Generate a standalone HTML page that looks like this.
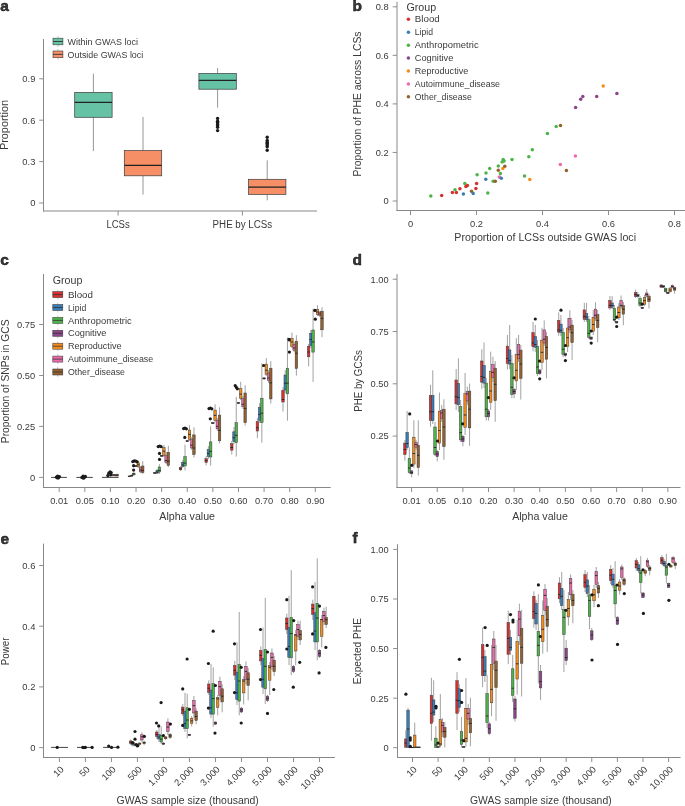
<!DOCTYPE html>
<html><head><meta charset="utf-8"><title>Figure</title>
<style>
html,body{margin:0;padding:0;background:#fff;}
body{width:685px;height:806px;overflow:hidden;}
svg{display:block;will-change:transform;}
text{font-family:"Liberation Sans",sans-serif;fill:#3a3a3a;}
</style></head><body>
<svg width="685" height="806" viewBox="0 0 685 806">
<rect width="685" height="806" fill="#fff"/>
<text x="0.2" y="11.2" font-size="15.5" font-weight="bold" fill="#000" stroke="#000" stroke-width="0.45">a</text>
<line x1="43.5" y1="39" x2="43.5" y2="211.5" stroke="#888888" stroke-width="1"/>
<line x1="39.2" y1="203" x2="43.5" y2="203" stroke="#8e8e8e" stroke-width="1"/>
<text x="35.4" y="206.35" font-size="9.4" text-anchor="end">0</text>
<line x1="39.2" y1="161.6" x2="43.5" y2="161.6" stroke="#8e8e8e" stroke-width="1"/>
<text x="35.4" y="164.95" font-size="9.4" text-anchor="end">0.3</text>
<line x1="39.2" y1="120.2" x2="43.5" y2="120.2" stroke="#8e8e8e" stroke-width="1"/>
<text x="35.4" y="123.55" font-size="9.4" text-anchor="end">0.6</text>
<line x1="39.2" y1="78.8" x2="43.5" y2="78.8" stroke="#8e8e8e" stroke-width="1"/>
<text x="35.4" y="82.15" font-size="9.4" text-anchor="end">0.9</text>
<line x1="43" y1="211" x2="317" y2="211" stroke="#888888" stroke-width="1"/>
<line x1="118.1" y1="211" x2="118.1" y2="215.5" stroke="#8e8e8e" stroke-width="1"/>
<text x="118.1" y="227.6" font-size="10" text-anchor="middle" textLength="23.3" lengthAdjust="spacingAndGlyphs">LCSs</text>
<line x1="242.4" y1="211" x2="242.4" y2="215.5" stroke="#8e8e8e" stroke-width="1"/>
<text x="242.4" y="227.6" font-size="10" text-anchor="middle" textLength="59.6" lengthAdjust="spacingAndGlyphs">PHE by LCSs</text>
<text x="8.4" y="125" font-size="10" text-anchor="middle" textLength="50.2" lengthAdjust="spacingAndGlyphs" transform="rotate(-90 8.4 125)">Proportion</text>
<line x1="93.4" y1="73.7" x2="93.4" y2="92.4" stroke="#8a8a8a" stroke-width="0.9"/>
<line x1="93.4" y1="117.3" x2="93.4" y2="151.1" stroke="#8a8a8a" stroke-width="0.9"/>
<rect x="74.7" y="92.4" width="37.4" height="24.9" fill="#66C2A5" stroke="#3b3b3b" stroke-width="0.7"/>
<line x1="74.7" y1="102.4" x2="112.1" y2="102.4" stroke="#222" stroke-width="1.3"/>
<line x1="143" y1="116.9" x2="143" y2="150.6" stroke="#8a8a8a" stroke-width="0.9"/>
<line x1="143" y1="175.8" x2="143" y2="194.5" stroke="#8a8a8a" stroke-width="0.9"/>
<rect x="124.3" y="150.6" width="37.4" height="25.2" fill="#F68E66" stroke="#3b3b3b" stroke-width="0.7"/>
<line x1="124.3" y1="165.3" x2="161.7" y2="165.3" stroke="#222" stroke-width="1.3"/>
<line x1="217.6" y1="67.9" x2="217.6" y2="73.5" stroke="#8a8a8a" stroke-width="0.9"/>
<line x1="217.6" y1="89.2" x2="217.6" y2="107.6" stroke="#8a8a8a" stroke-width="0.9"/>
<rect x="198.9" y="73.5" width="37.4" height="15.7" fill="#66C2A5" stroke="#3b3b3b" stroke-width="0.7"/>
<line x1="198.9" y1="80.4" x2="236.3" y2="80.4" stroke="#222" stroke-width="1.3"/>
<line x1="267.2" y1="160.3" x2="267.2" y2="179.3" stroke="#8a8a8a" stroke-width="0.9"/>
<line x1="267.2" y1="194.4" x2="267.2" y2="200.4" stroke="#8a8a8a" stroke-width="0.9"/>
<rect x="248.5" y="179.3" width="37.4" height="15.1" fill="#F68E66" stroke="#3b3b3b" stroke-width="0.7"/>
<line x1="248.5" y1="187.1" x2="285.9" y2="187.1" stroke="#222" stroke-width="1.3"/>
<circle cx="217.6" cy="118.4" r="1.7" fill="#1a1a1a"/>
<circle cx="217.6" cy="121.2" r="1.7" fill="#1a1a1a"/>
<circle cx="217.6" cy="122.6" r="1.7" fill="#1a1a1a"/>
<circle cx="217.6" cy="124" r="1.7" fill="#1a1a1a"/>
<circle cx="217.6" cy="125.4" r="1.7" fill="#1a1a1a"/>
<circle cx="217.6" cy="127.2" r="1.7" fill="#1a1a1a"/>
<circle cx="217.6" cy="130.6" r="1.7" fill="#1a1a1a"/>
<circle cx="267.2" cy="137.2" r="1.7" fill="#1a1a1a"/>
<circle cx="267.2" cy="140.5" r="1.7" fill="#1a1a1a"/>
<circle cx="267.2" cy="142.2" r="1.7" fill="#1a1a1a"/>
<circle cx="267.2" cy="143.6" r="1.7" fill="#1a1a1a"/>
<circle cx="267.2" cy="145" r="1.7" fill="#1a1a1a"/>
<circle cx="267.2" cy="146.8" r="1.7" fill="#1a1a1a"/>
<circle cx="267.2" cy="150.2" r="1.7" fill="#1a1a1a"/>
<line x1="58" y1="36.1" x2="58" y2="38.2" stroke="#bbbbbb" stroke-width="0.9"/>
<line x1="58" y1="44.8" x2="58" y2="46.8" stroke="#bbbbbb" stroke-width="0.9"/>
<rect x="53" y="38.2" width="9.9" height="6.6" fill="#66C2A5" stroke="#3b3b3b" stroke-width="0.6"/>
<line x1="53" y1="41.5" x2="62.9" y2="41.5" stroke="#333" stroke-width="0.9"/>
<text x="67.6" y="44.9" font-size="9.6" textLength="70.3" lengthAdjust="spacingAndGlyphs">Within GWAS loci</text>
<line x1="58" y1="48.9" x2="58" y2="51" stroke="#bbbbbb" stroke-width="0.9"/>
<line x1="58" y1="57.7" x2="58" y2="59.7" stroke="#bbbbbb" stroke-width="0.9"/>
<rect x="53" y="51" width="9.9" height="6.7" fill="#F68E66" stroke="#3b3b3b" stroke-width="0.6"/>
<line x1="53" y1="54.35" x2="62.9" y2="54.35" stroke="#333" stroke-width="0.9"/>
<text x="67.6" y="57.8" font-size="9.6" textLength="75.6" lengthAdjust="spacingAndGlyphs">Outside GWAS loci</text>
<text x="352.6" y="11" font-size="15.5" font-weight="bold" fill="#000" stroke="#000" stroke-width="0.45">b</text>
<line x1="397" y1="1.8" x2="397" y2="211" stroke="#888888" stroke-width="1"/>
<line x1="392.7" y1="201" x2="397" y2="201" stroke="#8e8e8e" stroke-width="1"/>
<text x="388.6" y="204.35" font-size="9.3" text-anchor="end">0</text>
<line x1="392.7" y1="152.45" x2="397" y2="152.45" stroke="#8e8e8e" stroke-width="1"/>
<text x="388.6" y="155.8" font-size="9.3" text-anchor="end">0.2</text>
<line x1="392.7" y1="103.9" x2="397" y2="103.9" stroke="#8e8e8e" stroke-width="1"/>
<text x="388.6" y="107.25" font-size="9.3" text-anchor="end">0.4</text>
<line x1="392.7" y1="55.35" x2="397" y2="55.35" stroke="#8e8e8e" stroke-width="1"/>
<text x="388.6" y="58.7" font-size="9.3" text-anchor="end">0.6</text>
<line x1="392.7" y1="6.8" x2="397" y2="6.8" stroke="#8e8e8e" stroke-width="1"/>
<text x="388.6" y="10.15" font-size="9.3" text-anchor="end">0.8</text>
<line x1="396.5" y1="210.5" x2="685" y2="210.5" stroke="#888888" stroke-width="1"/>
<line x1="410.5" y1="210.5" x2="410.5" y2="215" stroke="#8e8e8e" stroke-width="1"/>
<text x="410.5" y="226.6" font-size="9.3" text-anchor="middle">0</text>
<line x1="476.5" y1="210.5" x2="476.5" y2="215" stroke="#8e8e8e" stroke-width="1"/>
<text x="476.5" y="226.6" font-size="9.3" text-anchor="middle">0.2</text>
<line x1="542.5" y1="210.5" x2="542.5" y2="215" stroke="#8e8e8e" stroke-width="1"/>
<text x="542.5" y="226.6" font-size="9.3" text-anchor="middle">0.4</text>
<line x1="608.5" y1="210.5" x2="608.5" y2="215" stroke="#8e8e8e" stroke-width="1"/>
<text x="608.5" y="226.6" font-size="9.3" text-anchor="middle">0.6</text>
<line x1="674.5" y1="210.5" x2="674.5" y2="215" stroke="#8e8e8e" stroke-width="1"/>
<text x="674.5" y="226.6" font-size="9.3" text-anchor="middle">0.8</text>
<text x="545.2" y="240.6" font-size="10" text-anchor="middle" textLength="181.7" lengthAdjust="spacingAndGlyphs">Proportion of LCSs outside GWAS loci</text>
<text x="361.2" y="104" font-size="10" text-anchor="middle" textLength="145" lengthAdjust="spacingAndGlyphs" transform="rotate(-90 361.2 104)">Proportion of PHE across LCSs</text>
<circle cx="430.8" cy="195.9" r="1.75" fill="#4DB348"/>
<circle cx="441.7" cy="195.4" r="1.75" fill="#D7302F"/>
<circle cx="452.4" cy="192.6" r="1.75" fill="#D7302F"/>
<circle cx="456.4" cy="192.6" r="1.75" fill="#D7302F"/>
<circle cx="455" cy="189.8" r="1.75" fill="#4DB348"/>
<circle cx="459.9" cy="188.7" r="1.75" fill="#D7302F"/>
<circle cx="464.8" cy="183.4" r="1.75" fill="#4DB348"/>
<circle cx="465.9" cy="186.6" r="1.75" fill="#D7302F"/>
<circle cx="467.4" cy="185.4" r="1.75" fill="#D7302F"/>
<circle cx="463.4" cy="194.1" r="1.75" fill="#3A7DB6"/>
<circle cx="471.5" cy="191.3" r="1.75" fill="#93602F"/>
<circle cx="473.2" cy="193.6" r="1.75" fill="#3A7DB6"/>
<circle cx="475.9" cy="188.4" r="1.75" fill="#D7302F"/>
<circle cx="476.6" cy="183.4" r="1.75" fill="#D7302F"/>
<circle cx="477.1" cy="174.7" r="1.75" fill="#4DB348"/>
<circle cx="487.8" cy="192.9" r="1.75" fill="#4DB348"/>
<circle cx="485.8" cy="179.2" r="1.75" fill="#3A7DB6"/>
<circle cx="486" cy="172.9" r="1.75" fill="#4DB348"/>
<circle cx="489.7" cy="168.6" r="1.75" fill="#4DB348"/>
<circle cx="493.2" cy="181.2" r="1.75" fill="#4DB348"/>
<circle cx="495.3" cy="181.3" r="1.75" fill="#93602F"/>
<circle cx="498.3" cy="165.9" r="1.75" fill="#4DB348"/>
<circle cx="498.3" cy="170.3" r="1.75" fill="#93602F"/>
<circle cx="500.4" cy="173.5" r="1.75" fill="#4DB348"/>
<circle cx="499.3" cy="177.1" r="1.75" fill="#EE69AA"/>
<circle cx="501.3" cy="178.2" r="1.75" fill="#3A7DB6"/>
<circle cx="502.8" cy="168.6" r="1.75" fill="#F58C19"/>
<circle cx="504.8" cy="166.3" r="1.75" fill="#93602F"/>
<circle cx="502.1" cy="162.1" r="1.75" fill="#4DB348"/>
<circle cx="503.2" cy="159.6" r="1.75" fill="#4DB348"/>
<circle cx="504.1" cy="161" r="1.75" fill="#4DB348"/>
<circle cx="512" cy="159.6" r="1.75" fill="#4DB348"/>
<circle cx="603.2" cy="85.9" r="1.75" fill="#F58C19"/>
<circle cx="616.9" cy="93.5" r="1.75" fill="#8D458A"/>
<circle cx="596.7" cy="96.4" r="1.75" fill="#8D458A"/>
<circle cx="582.8" cy="96.4" r="1.75" fill="#8D458A"/>
<circle cx="580.7" cy="99.2" r="1.75" fill="#8D458A"/>
<circle cx="575.6" cy="107.6" r="1.75" fill="#8D458A"/>
<circle cx="560.5" cy="125.4" r="1.75" fill="#93602F"/>
<circle cx="556.2" cy="126.4" r="1.75" fill="#4DB348"/>
<circle cx="547.4" cy="133.4" r="1.75" fill="#4DB348"/>
<circle cx="532.3" cy="149.7" r="1.75" fill="#4DB348"/>
<circle cx="528.8" cy="156.7" r="1.75" fill="#4DB348"/>
<circle cx="575.4" cy="156" r="1.75" fill="#EE69AA"/>
<circle cx="560.3" cy="164.4" r="1.75" fill="#EE69AA"/>
<circle cx="566.4" cy="170.5" r="1.75" fill="#93602F"/>
<circle cx="524.5" cy="176.1" r="1.75" fill="#4DB348"/>
<circle cx="529.8" cy="179.5" r="1.75" fill="#F58C19"/>
<text x="406.5" y="10.8" font-size="10.4" textLength="29.7" lengthAdjust="spacingAndGlyphs">Group</text>
<circle cx="408.4" cy="19.3" r="1.75" fill="#D7302F"/>
<text x="414.8" y="22.4" font-size="9.4" textLength="25" lengthAdjust="spacingAndGlyphs">Blood</text>
<circle cx="408.4" cy="32.22" r="1.75" fill="#3A7DB6"/>
<text x="414.8" y="35.32" font-size="9.4" textLength="18.2" lengthAdjust="spacingAndGlyphs">Lipid</text>
<circle cx="408.4" cy="45.14" r="1.75" fill="#4DB348"/>
<text x="414.8" y="48.24" font-size="9.4" textLength="63.8" lengthAdjust="spacingAndGlyphs">Anthropometric</text>
<circle cx="408.4" cy="58.06" r="1.75" fill="#8D458A"/>
<text x="414.8" y="61.16" font-size="9.4" textLength="38.5" lengthAdjust="spacingAndGlyphs">Cognitive</text>
<circle cx="408.4" cy="70.98" r="1.75" fill="#F58C19"/>
<text x="414.8" y="74.08" font-size="9.4" textLength="53.5" lengthAdjust="spacingAndGlyphs">Reproductive</text>
<circle cx="408.4" cy="83.9" r="1.75" fill="#EE69AA"/>
<text x="414.8" y="87" font-size="9.4" textLength="85.2" lengthAdjust="spacingAndGlyphs">Autoimmune_disease</text>
<circle cx="408.4" cy="96.82" r="1.75" fill="#93602F"/>
<text x="414.8" y="99.92" font-size="9.4" textLength="57" lengthAdjust="spacingAndGlyphs">Other_disease</text>
<text x="0.2" y="265" font-size="15.5" font-weight="bold" fill="#000" stroke="#000" stroke-width="0.45">c</text>
<line x1="43.5" y1="274" x2="43.5" y2="488" stroke="#888888" stroke-width="1"/>
<line x1="39.2" y1="477.4" x2="43.5" y2="477.4" stroke="#8e8e8e" stroke-width="1"/>
<text x="35.2" y="480.75" font-size="9.3" text-anchor="end">0</text>
<line x1="39.2" y1="426.4" x2="43.5" y2="426.4" stroke="#8e8e8e" stroke-width="1"/>
<text x="35.2" y="429.75" font-size="9.3" text-anchor="end">0.25</text>
<line x1="39.2" y1="375.5" x2="43.5" y2="375.5" stroke="#8e8e8e" stroke-width="1"/>
<text x="35.2" y="378.85" font-size="9.3" text-anchor="end">0.50</text>
<line x1="39.2" y1="324.5" x2="43.5" y2="324.5" stroke="#8e8e8e" stroke-width="1"/>
<text x="35.2" y="327.85" font-size="9.3" text-anchor="end">0.75</text>
<line x1="43" y1="487.5" x2="330.7" y2="487.5" stroke="#888888" stroke-width="1"/>
<line x1="59.2" y1="487.5" x2="59.2" y2="492" stroke="#8e8e8e" stroke-width="1"/>
<text x="59.2" y="504" font-size="9.3" text-anchor="middle">0.01</text>
<line x1="84.81" y1="487.5" x2="84.81" y2="492" stroke="#8e8e8e" stroke-width="1"/>
<text x="84.81" y="504" font-size="9.3" text-anchor="middle">0.05</text>
<line x1="110.42" y1="487.5" x2="110.42" y2="492" stroke="#8e8e8e" stroke-width="1"/>
<text x="110.42" y="504" font-size="9.3" text-anchor="middle">0.10</text>
<line x1="136.03" y1="487.5" x2="136.03" y2="492" stroke="#8e8e8e" stroke-width="1"/>
<text x="136.03" y="504" font-size="9.3" text-anchor="middle">0.20</text>
<line x1="161.64" y1="487.5" x2="161.64" y2="492" stroke="#8e8e8e" stroke-width="1"/>
<text x="161.64" y="504" font-size="9.3" text-anchor="middle">0.30</text>
<line x1="187.25" y1="487.5" x2="187.25" y2="492" stroke="#8e8e8e" stroke-width="1"/>
<text x="187.25" y="504" font-size="9.3" text-anchor="middle">0.40</text>
<line x1="212.86" y1="487.5" x2="212.86" y2="492" stroke="#8e8e8e" stroke-width="1"/>
<text x="212.86" y="504" font-size="9.3" text-anchor="middle">0.50</text>
<line x1="238.47" y1="487.5" x2="238.47" y2="492" stroke="#8e8e8e" stroke-width="1"/>
<text x="238.47" y="504" font-size="9.3" text-anchor="middle">0.60</text>
<line x1="264.08" y1="487.5" x2="264.08" y2="492" stroke="#8e8e8e" stroke-width="1"/>
<text x="264.08" y="504" font-size="9.3" text-anchor="middle">0.70</text>
<line x1="289.69" y1="487.5" x2="289.69" y2="492" stroke="#8e8e8e" stroke-width="1"/>
<text x="289.69" y="504" font-size="9.3" text-anchor="middle">0.80</text>
<line x1="315.3" y1="487.5" x2="315.3" y2="492" stroke="#8e8e8e" stroke-width="1"/>
<text x="315.3" y="504" font-size="9.3" text-anchor="middle">0.90</text>
<text x="187.2" y="519.9" font-size="10" text-anchor="middle" textLength="55.7" lengthAdjust="spacingAndGlyphs">Alpha value</text>
<text x="9.2" y="381.3" font-size="10" text-anchor="middle" textLength="123.8" lengthAdjust="spacingAndGlyphs" transform="rotate(-90 9.2 381.3)">Proportion of SNPs in GCS</text>
<text x="52.7" y="283.7" font-size="10.4" textLength="29.7" lengthAdjust="spacingAndGlyphs">Group</text>
<line x1="57.8" y1="289.7" x2="57.8" y2="291.6" stroke="#bbbbbb" stroke-width="0.8"/>
<line x1="57.8" y1="297.6" x2="57.8" y2="299.5" stroke="#bbbbbb" stroke-width="0.8"/>
<rect x="52.8" y="291.6" width="10" height="6" fill="#D7302F" stroke="#3b3b3b" stroke-width="0.55"/>
<line x1="52.8" y1="294.6" x2="62.8" y2="294.6" stroke="#333" stroke-width="0.8"/>
<text x="68" y="297.7" font-size="9.4" textLength="25" lengthAdjust="spacingAndGlyphs">Blood</text>
<line x1="57.8" y1="302.6" x2="57.8" y2="304.5" stroke="#bbbbbb" stroke-width="0.8"/>
<line x1="57.8" y1="310.5" x2="57.8" y2="312.4" stroke="#bbbbbb" stroke-width="0.8"/>
<rect x="52.8" y="304.5" width="10" height="6" fill="#3A7DB6" stroke="#3b3b3b" stroke-width="0.55"/>
<line x1="52.8" y1="307.5" x2="62.8" y2="307.5" stroke="#333" stroke-width="0.8"/>
<text x="68" y="310.6" font-size="9.4" textLength="18.2" lengthAdjust="spacingAndGlyphs">Lipid</text>
<line x1="57.8" y1="315.5" x2="57.8" y2="317.4" stroke="#bbbbbb" stroke-width="0.8"/>
<line x1="57.8" y1="323.4" x2="57.8" y2="325.3" stroke="#bbbbbb" stroke-width="0.8"/>
<rect x="52.8" y="317.4" width="10" height="6" fill="#4DB348" stroke="#3b3b3b" stroke-width="0.55"/>
<line x1="52.8" y1="320.4" x2="62.8" y2="320.4" stroke="#333" stroke-width="0.8"/>
<text x="68" y="323.5" font-size="9.4" textLength="63.8" lengthAdjust="spacingAndGlyphs">Anthropometric</text>
<line x1="57.8" y1="328.4" x2="57.8" y2="330.3" stroke="#bbbbbb" stroke-width="0.8"/>
<line x1="57.8" y1="336.3" x2="57.8" y2="338.2" stroke="#bbbbbb" stroke-width="0.8"/>
<rect x="52.8" y="330.3" width="10" height="6" fill="#8D458A" stroke="#3b3b3b" stroke-width="0.55"/>
<line x1="52.8" y1="333.3" x2="62.8" y2="333.3" stroke="#333" stroke-width="0.8"/>
<text x="68" y="336.4" font-size="9.4" textLength="38.5" lengthAdjust="spacingAndGlyphs">Cognitive</text>
<line x1="57.8" y1="341.3" x2="57.8" y2="343.2" stroke="#bbbbbb" stroke-width="0.8"/>
<line x1="57.8" y1="349.2" x2="57.8" y2="351.1" stroke="#bbbbbb" stroke-width="0.8"/>
<rect x="52.8" y="343.2" width="10" height="6" fill="#F58C19" stroke="#3b3b3b" stroke-width="0.55"/>
<line x1="52.8" y1="346.2" x2="62.8" y2="346.2" stroke="#333" stroke-width="0.8"/>
<text x="68" y="349.3" font-size="9.4" textLength="53.5" lengthAdjust="spacingAndGlyphs">Reproductive</text>
<line x1="57.8" y1="354.2" x2="57.8" y2="356.1" stroke="#bbbbbb" stroke-width="0.8"/>
<line x1="57.8" y1="362.1" x2="57.8" y2="364" stroke="#bbbbbb" stroke-width="0.8"/>
<rect x="52.8" y="356.1" width="10" height="6" fill="#EE69AA" stroke="#3b3b3b" stroke-width="0.55"/>
<line x1="52.8" y1="359.1" x2="62.8" y2="359.1" stroke="#333" stroke-width="0.8"/>
<text x="68" y="362.2" font-size="9.4" textLength="85.2" lengthAdjust="spacingAndGlyphs">Autoimmune_disease</text>
<line x1="57.8" y1="367.1" x2="57.8" y2="369" stroke="#bbbbbb" stroke-width="0.8"/>
<line x1="57.8" y1="375" x2="57.8" y2="376.9" stroke="#bbbbbb" stroke-width="0.8"/>
<rect x="52.8" y="369" width="10" height="6" fill="#93602F" stroke="#3b3b3b" stroke-width="0.55"/>
<line x1="52.8" y1="372" x2="62.8" y2="372" stroke="#333" stroke-width="0.8"/>
<text x="68" y="375.1" font-size="9.4" textLength="57" lengthAdjust="spacingAndGlyphs">Other_disease</text>
<line x1="51.1" y1="477.4" x2="66.9" y2="477.4" stroke="#3a3a3a" stroke-width="0.95"/>
<line x1="76.4" y1="477.4" x2="92.8" y2="477.4" stroke="#3a3a3a" stroke-width="0.95"/>
<line x1="102" y1="477.4" x2="118.6" y2="477.4" stroke="#3a3a3a" stroke-width="0.95"/>
<line x1="112.65" y1="473.5" x2="112.65" y2="474.6" stroke="#7a7a7a" stroke-width="0.7"/>
<line x1="112.65" y1="475.6" x2="112.65" y2="476.5" stroke="#7a7a7a" stroke-width="0.7"/>
<rect x="111.4" y="474.6" width="2.5" height="1" fill="#F58C19" stroke="#3b3b3b" stroke-width="0.5"/>
<line x1="111.4" y1="475" x2="113.9" y2="475" stroke="#222" stroke-width="0.9"/>
<line x1="114.88" y1="474" x2="114.88" y2="474.8" stroke="#7a7a7a" stroke-width="0.7"/>
<line x1="114.88" y1="475.8" x2="114.88" y2="476.5" stroke="#7a7a7a" stroke-width="0.7"/>
<rect x="113.63" y="474.8" width="2.5" height="1" fill="#EE69AA" stroke="#3b3b3b" stroke-width="0.5"/>
<line x1="113.63" y1="475.2" x2="116.13" y2="475.2" stroke="#222" stroke-width="0.9"/>
<line x1="117.11" y1="473.5" x2="117.11" y2="474.5" stroke="#7a7a7a" stroke-width="0.7"/>
<line x1="117.11" y1="476" x2="117.11" y2="476.5" stroke="#7a7a7a" stroke-width="0.7"/>
<rect x="115.86" y="474.5" width="2.5" height="1.5" fill="#93602F" stroke="#3b3b3b" stroke-width="0.5"/>
<line x1="115.86" y1="475.2" x2="118.36" y2="475.2" stroke="#222" stroke-width="0.9"/>
<line x1="129.34" y1="475.5" x2="129.34" y2="476" stroke="#7a7a7a" stroke-width="0.7"/>
<line x1="129.34" y1="476.7" x2="129.34" y2="477.2" stroke="#7a7a7a" stroke-width="0.7"/>
<rect x="128.09" y="476" width="2.5" height="0.7" fill="#D7302F" stroke="#3b3b3b" stroke-width="0.5"/>
<line x1="128.09" y1="476.3" x2="130.59" y2="476.3" stroke="#222" stroke-width="0.9"/>
<line x1="131.57" y1="474.5" x2="131.57" y2="475.2" stroke="#7a7a7a" stroke-width="0.7"/>
<line x1="131.57" y1="476.2" x2="131.57" y2="476.8" stroke="#7a7a7a" stroke-width="0.7"/>
<rect x="130.32" y="475.2" width="2.5" height="1" fill="#3A7DB6" stroke="#3b3b3b" stroke-width="0.5"/>
<line x1="130.32" y1="475.6" x2="132.82" y2="475.6" stroke="#222" stroke-width="0.9"/>
<line x1="133.8" y1="470.5" x2="133.8" y2="473.2" stroke="#7a7a7a" stroke-width="0.7"/>
<line x1="133.8" y1="474.8" x2="133.8" y2="476" stroke="#7a7a7a" stroke-width="0.7"/>
<rect x="132.55" y="473.2" width="2.5" height="1.6" fill="#4DB348" stroke="#3b3b3b" stroke-width="0.5"/>
<line x1="132.55" y1="474" x2="135.05" y2="474" stroke="#222" stroke-width="0.9"/>
<line x1="136.03" y1="465" x2="136.03" y2="465.6" stroke="#7a7a7a" stroke-width="0.7"/>
<line x1="136.03" y1="466.4" x2="136.03" y2="467" stroke="#7a7a7a" stroke-width="0.7"/>
<rect x="134.78" y="465.6" width="2.5" height="0.8" fill="#8D458A" stroke="#3b3b3b" stroke-width="0.5"/>
<line x1="134.78" y1="466" x2="137.28" y2="466" stroke="#222" stroke-width="0.9"/>
<line x1="138.26" y1="461.5" x2="138.26" y2="462.8" stroke="#7a7a7a" stroke-width="0.7"/>
<line x1="138.26" y1="466.8" x2="138.26" y2="468" stroke="#7a7a7a" stroke-width="0.7"/>
<rect x="137.01" y="462.8" width="2.5" height="4" fill="#F58C19" stroke="#3b3b3b" stroke-width="0.5"/>
<line x1="137.01" y1="464.8" x2="139.51" y2="464.8" stroke="#222" stroke-width="0.9"/>
<line x1="140.49" y1="466" x2="140.49" y2="467.5" stroke="#7a7a7a" stroke-width="0.7"/>
<line x1="140.49" y1="471.9" x2="140.49" y2="473" stroke="#7a7a7a" stroke-width="0.7"/>
<rect x="139.24" y="467.5" width="2.5" height="4.4" fill="#EE69AA" stroke="#3b3b3b" stroke-width="0.5"/>
<line x1="139.24" y1="470" x2="141.74" y2="470" stroke="#222" stroke-width="0.9"/>
<line x1="142.72" y1="461" x2="142.72" y2="466" stroke="#7a7a7a" stroke-width="0.7"/>
<line x1="142.72" y1="472.6" x2="142.72" y2="474" stroke="#7a7a7a" stroke-width="0.7"/>
<rect x="141.47" y="466" width="2.5" height="6.6" fill="#93602F" stroke="#3b3b3b" stroke-width="0.5"/>
<line x1="141.47" y1="470.4" x2="143.97" y2="470.4" stroke="#222" stroke-width="0.9"/>
<line x1="154.95" y1="472" x2="154.95" y2="472.6" stroke="#7a7a7a" stroke-width="0.7"/>
<line x1="154.95" y1="473.5" x2="154.95" y2="474" stroke="#7a7a7a" stroke-width="0.7"/>
<rect x="153.7" y="472.6" width="2.5" height="0.9" fill="#D7302F" stroke="#3b3b3b" stroke-width="0.5"/>
<line x1="153.7" y1="473" x2="156.2" y2="473" stroke="#222" stroke-width="0.9"/>
<line x1="157.18" y1="469" x2="157.18" y2="470.4" stroke="#7a7a7a" stroke-width="0.7"/>
<line x1="157.18" y1="473.1" x2="157.18" y2="474" stroke="#7a7a7a" stroke-width="0.7"/>
<rect x="155.93" y="470.4" width="2.5" height="2.7" fill="#3A7DB6" stroke="#3b3b3b" stroke-width="0.5"/>
<line x1="155.93" y1="472" x2="158.43" y2="472" stroke="#222" stroke-width="0.9"/>
<line x1="159.41" y1="464.2" x2="159.41" y2="467" stroke="#7a7a7a" stroke-width="0.7"/>
<line x1="159.41" y1="472" x2="159.41" y2="474" stroke="#7a7a7a" stroke-width="0.7"/>
<rect x="158.16" y="467" width="2.5" height="5" fill="#4DB348" stroke="#3b3b3b" stroke-width="0.5"/>
<line x1="158.16" y1="470.5" x2="160.66" y2="470.5" stroke="#222" stroke-width="0.9"/>
<line x1="161.64" y1="455" x2="161.64" y2="455.3" stroke="#7a7a7a" stroke-width="0.7"/>
<line x1="161.64" y1="456.4" x2="161.64" y2="457" stroke="#7a7a7a" stroke-width="0.7"/>
<rect x="160.39" y="455.3" width="2.5" height="1.1" fill="#8D458A" stroke="#3b3b3b" stroke-width="0.5"/>
<line x1="160.39" y1="455.8" x2="162.89" y2="455.8" stroke="#222" stroke-width="0.9"/>
<line x1="163.87" y1="445" x2="163.87" y2="447.5" stroke="#7a7a7a" stroke-width="0.7"/>
<line x1="163.87" y1="455.3" x2="163.87" y2="457" stroke="#7a7a7a" stroke-width="0.7"/>
<rect x="162.62" y="447.5" width="2.5" height="7.8" fill="#F58C19" stroke="#3b3b3b" stroke-width="0.5"/>
<line x1="162.62" y1="451.2" x2="165.12" y2="451.2" stroke="#222" stroke-width="0.9"/>
<line x1="166.1" y1="452" x2="166.1" y2="455.6" stroke="#7a7a7a" stroke-width="0.7"/>
<line x1="166.1" y1="462.5" x2="166.1" y2="464" stroke="#7a7a7a" stroke-width="0.7"/>
<rect x="164.85" y="455.6" width="2.5" height="6.9" fill="#EE69AA" stroke="#3b3b3b" stroke-width="0.5"/>
<line x1="164.85" y1="460.6" x2="167.35" y2="460.6" stroke="#222" stroke-width="0.9"/>
<line x1="168.33" y1="445.8" x2="168.33" y2="452.3" stroke="#7a7a7a" stroke-width="0.7"/>
<line x1="168.33" y1="465.3" x2="168.33" y2="467" stroke="#7a7a7a" stroke-width="0.7"/>
<rect x="167.08" y="452.3" width="2.5" height="13" fill="#93602F" stroke="#3b3b3b" stroke-width="0.5"/>
<line x1="167.08" y1="461.2" x2="169.58" y2="461.2" stroke="#222" stroke-width="0.9"/>
<line x1="180.56" y1="466" x2="180.56" y2="467.6" stroke="#7a7a7a" stroke-width="0.7"/>
<line x1="180.56" y1="469.8" x2="180.56" y2="471" stroke="#7a7a7a" stroke-width="0.7"/>
<rect x="179.31" y="467.6" width="2.5" height="2.2" fill="#D7302F" stroke="#3b3b3b" stroke-width="0.5"/>
<line x1="179.31" y1="468.7" x2="181.81" y2="468.7" stroke="#222" stroke-width="0.9"/>
<line x1="182.79" y1="460" x2="182.79" y2="462.3" stroke="#7a7a7a" stroke-width="0.7"/>
<line x1="182.79" y1="466.5" x2="182.79" y2="468" stroke="#7a7a7a" stroke-width="0.7"/>
<rect x="181.54" y="462.3" width="2.5" height="4.2" fill="#3A7DB6" stroke="#3b3b3b" stroke-width="0.5"/>
<line x1="181.54" y1="465" x2="184.04" y2="465" stroke="#222" stroke-width="0.9"/>
<line x1="185.02" y1="444.7" x2="185.02" y2="456.7" stroke="#7a7a7a" stroke-width="0.7"/>
<line x1="185.02" y1="465.9" x2="185.02" y2="470.4" stroke="#7a7a7a" stroke-width="0.7"/>
<rect x="183.77" y="456.7" width="2.5" height="9.2" fill="#4DB348" stroke="#3b3b3b" stroke-width="0.5"/>
<line x1="183.77" y1="463.1" x2="186.27" y2="463.1" stroke="#222" stroke-width="0.9"/>
<line x1="187.25" y1="440" x2="187.25" y2="440.6" stroke="#7a7a7a" stroke-width="0.7"/>
<line x1="187.25" y1="441.7" x2="187.25" y2="442" stroke="#7a7a7a" stroke-width="0.7"/>
<rect x="186" y="440.6" width="2.5" height="1.1" fill="#8D458A" stroke="#3b3b3b" stroke-width="0.5"/>
<line x1="186" y1="441.1" x2="188.5" y2="441.1" stroke="#222" stroke-width="0.9"/>
<line x1="189.48" y1="425.2" x2="189.48" y2="430" stroke="#7a7a7a" stroke-width="0.7"/>
<line x1="189.48" y1="439.3" x2="189.48" y2="441" stroke="#7a7a7a" stroke-width="0.7"/>
<rect x="188.23" y="430" width="2.5" height="9.3" fill="#F58C19" stroke="#3b3b3b" stroke-width="0.5"/>
<line x1="188.23" y1="434.4" x2="190.73" y2="434.4" stroke="#222" stroke-width="0.9"/>
<line x1="191.71" y1="437" x2="191.71" y2="439.7" stroke="#7a7a7a" stroke-width="0.7"/>
<line x1="191.71" y1="448" x2="191.71" y2="450" stroke="#7a7a7a" stroke-width="0.7"/>
<rect x="190.46" y="439.7" width="2.5" height="8.3" fill="#EE69AA" stroke="#3b3b3b" stroke-width="0.5"/>
<line x1="190.46" y1="445.2" x2="192.96" y2="445.2" stroke="#222" stroke-width="0.9"/>
<line x1="193.94" y1="427.4" x2="193.94" y2="434.9" stroke="#7a7a7a" stroke-width="0.7"/>
<line x1="193.94" y1="454.5" x2="193.94" y2="457.5" stroke="#7a7a7a" stroke-width="0.7"/>
<rect x="192.69" y="434.9" width="2.5" height="19.6" fill="#93602F" stroke="#3b3b3b" stroke-width="0.5"/>
<line x1="192.69" y1="448" x2="195.19" y2="448" stroke="#222" stroke-width="0.9"/>
<line x1="206.17" y1="456" x2="206.17" y2="458.6" stroke="#7a7a7a" stroke-width="0.7"/>
<line x1="206.17" y1="462.5" x2="206.17" y2="465.3" stroke="#7a7a7a" stroke-width="0.7"/>
<rect x="204.92" y="458.6" width="2.5" height="3.9" fill="#D7302F" stroke="#3b3b3b" stroke-width="0.5"/>
<line x1="204.92" y1="460.5" x2="207.42" y2="460.5" stroke="#222" stroke-width="0.9"/>
<line x1="208.4" y1="446" x2="208.4" y2="449.7" stroke="#7a7a7a" stroke-width="0.7"/>
<line x1="208.4" y1="456.7" x2="208.4" y2="459" stroke="#7a7a7a" stroke-width="0.7"/>
<rect x="207.15" y="449.7" width="2.5" height="7" fill="#3A7DB6" stroke="#3b3b3b" stroke-width="0.5"/>
<line x1="207.15" y1="453.5" x2="209.65" y2="453.5" stroke="#222" stroke-width="0.9"/>
<line x1="210.63" y1="426.3" x2="210.63" y2="441.9" stroke="#7a7a7a" stroke-width="0.7"/>
<line x1="210.63" y1="457" x2="210.63" y2="465.7" stroke="#7a7a7a" stroke-width="0.7"/>
<rect x="209.38" y="441.9" width="2.5" height="15.1" fill="#4DB348" stroke="#3b3b3b" stroke-width="0.5"/>
<line x1="209.38" y1="451.4" x2="211.88" y2="451.4" stroke="#222" stroke-width="0.9"/>
<line x1="212.86" y1="422" x2="212.86" y2="422.6" stroke="#7a7a7a" stroke-width="0.7"/>
<line x1="212.86" y1="423.7" x2="212.86" y2="424" stroke="#7a7a7a" stroke-width="0.7"/>
<rect x="211.61" y="422.6" width="2.5" height="1.1" fill="#8D458A" stroke="#3b3b3b" stroke-width="0.5"/>
<line x1="211.61" y1="423.1" x2="214.11" y2="423.1" stroke="#222" stroke-width="0.9"/>
<line x1="215.09" y1="404.3" x2="215.09" y2="410.1" stroke="#7a7a7a" stroke-width="0.7"/>
<line x1="215.09" y1="420.4" x2="215.09" y2="422" stroke="#7a7a7a" stroke-width="0.7"/>
<rect x="213.84" y="410.1" width="2.5" height="10.3" fill="#F58C19" stroke="#3b3b3b" stroke-width="0.5"/>
<line x1="213.84" y1="415.4" x2="216.34" y2="415.4" stroke="#222" stroke-width="0.9"/>
<line x1="217.32" y1="418" x2="217.32" y2="420.7" stroke="#7a7a7a" stroke-width="0.7"/>
<line x1="217.32" y1="428.8" x2="217.32" y2="431" stroke="#7a7a7a" stroke-width="0.7"/>
<rect x="216.07" y="420.7" width="2.5" height="8.1" fill="#EE69AA" stroke="#3b3b3b" stroke-width="0.5"/>
<line x1="216.07" y1="426.3" x2="218.57" y2="426.3" stroke="#222" stroke-width="0.9"/>
<line x1="219.55" y1="407.3" x2="219.55" y2="415.1" stroke="#7a7a7a" stroke-width="0.7"/>
<line x1="219.55" y1="440.8" x2="219.55" y2="443.3" stroke="#7a7a7a" stroke-width="0.7"/>
<rect x="218.3" y="415.1" width="2.5" height="25.7" fill="#93602F" stroke="#3b3b3b" stroke-width="0.5"/>
<line x1="218.3" y1="430.4" x2="220.8" y2="430.4" stroke="#222" stroke-width="0.9"/>
<line x1="231.78" y1="441" x2="231.78" y2="443.7" stroke="#7a7a7a" stroke-width="0.7"/>
<line x1="231.78" y1="450.1" x2="231.78" y2="454.6" stroke="#7a7a7a" stroke-width="0.7"/>
<rect x="230.53" y="443.7" width="2.5" height="6.4" fill="#D7302F" stroke="#3b3b3b" stroke-width="0.5"/>
<line x1="230.53" y1="447.5" x2="233.03" y2="447.5" stroke="#222" stroke-width="0.9"/>
<line x1="234.01" y1="427" x2="234.01" y2="431.8" stroke="#7a7a7a" stroke-width="0.7"/>
<line x1="234.01" y1="441.7" x2="234.01" y2="444" stroke="#7a7a7a" stroke-width="0.7"/>
<rect x="232.76" y="431.8" width="2.5" height="9.9" fill="#3A7DB6" stroke="#3b3b3b" stroke-width="0.5"/>
<line x1="232.76" y1="437.7" x2="235.26" y2="437.7" stroke="#222" stroke-width="0.9"/>
<line x1="236.24" y1="396.8" x2="236.24" y2="422.7" stroke="#7a7a7a" stroke-width="0.7"/>
<line x1="236.24" y1="442.7" x2="236.24" y2="456.6" stroke="#7a7a7a" stroke-width="0.7"/>
<rect x="234.99" y="422.7" width="2.5" height="20" fill="#4DB348" stroke="#3b3b3b" stroke-width="0.5"/>
<line x1="234.99" y1="435.3" x2="237.49" y2="435.3" stroke="#222" stroke-width="0.9"/>
<line x1="238.47" y1="402" x2="238.47" y2="402.5" stroke="#7a7a7a" stroke-width="0.7"/>
<line x1="238.47" y1="403.6" x2="238.47" y2="404" stroke="#7a7a7a" stroke-width="0.7"/>
<rect x="237.22" y="402.5" width="2.5" height="1.1" fill="#8D458A" stroke="#3b3b3b" stroke-width="0.5"/>
<line x1="237.22" y1="403" x2="239.72" y2="403" stroke="#222" stroke-width="0.9"/>
<line x1="240.7" y1="381.8" x2="240.7" y2="388.6" stroke="#7a7a7a" stroke-width="0.7"/>
<line x1="240.7" y1="398.2" x2="240.7" y2="400" stroke="#7a7a7a" stroke-width="0.7"/>
<rect x="239.45" y="388.6" width="2.5" height="9.6" fill="#F58C19" stroke="#3b3b3b" stroke-width="0.5"/>
<line x1="239.45" y1="394.1" x2="241.95" y2="394.1" stroke="#222" stroke-width="0.9"/>
<line x1="242.93" y1="396" x2="242.93" y2="398.5" stroke="#7a7a7a" stroke-width="0.7"/>
<line x1="242.93" y1="406.4" x2="242.93" y2="409" stroke="#7a7a7a" stroke-width="0.7"/>
<rect x="241.68" y="398.5" width="2.5" height="7.9" fill="#EE69AA" stroke="#3b3b3b" stroke-width="0.5"/>
<line x1="241.68" y1="404.3" x2="244.18" y2="404.3" stroke="#222" stroke-width="0.9"/>
<line x1="245.16" y1="385.2" x2="245.16" y2="393" stroke="#7a7a7a" stroke-width="0.7"/>
<line x1="245.16" y1="422.7" x2="245.16" y2="425.5" stroke="#7a7a7a" stroke-width="0.7"/>
<rect x="243.91" y="393" width="2.5" height="29.7" fill="#93602F" stroke="#3b3b3b" stroke-width="0.5"/>
<line x1="243.91" y1="408.4" x2="246.41" y2="408.4" stroke="#222" stroke-width="0.9"/>
<line x1="257.39" y1="418" x2="257.39" y2="421.6" stroke="#7a7a7a" stroke-width="0.7"/>
<line x1="257.39" y1="431" x2="257.39" y2="438.2" stroke="#7a7a7a" stroke-width="0.7"/>
<rect x="256.14" y="421.6" width="2.5" height="9.4" fill="#D7302F" stroke="#3b3b3b" stroke-width="0.5"/>
<line x1="256.14" y1="427.8" x2="258.64" y2="427.8" stroke="#222" stroke-width="0.9"/>
<line x1="259.62" y1="403" x2="259.62" y2="407.4" stroke="#7a7a7a" stroke-width="0.7"/>
<line x1="259.62" y1="420.4" x2="259.62" y2="423" stroke="#7a7a7a" stroke-width="0.7"/>
<rect x="258.37" y="407.4" width="2.5" height="13" fill="#3A7DB6" stroke="#3b3b3b" stroke-width="0.5"/>
<line x1="258.37" y1="414.4" x2="260.87" y2="414.4" stroke="#222" stroke-width="0.9"/>
<line x1="261.85" y1="363.4" x2="261.85" y2="398.2" stroke="#7a7a7a" stroke-width="0.7"/>
<line x1="261.85" y1="422.6" x2="261.85" y2="442.7" stroke="#7a7a7a" stroke-width="0.7"/>
<rect x="260.6" y="398.2" width="2.5" height="24.4" fill="#4DB348" stroke="#3b3b3b" stroke-width="0.5"/>
<line x1="260.6" y1="413.2" x2="263.1" y2="413.2" stroke="#222" stroke-width="0.9"/>
<line x1="264.08" y1="377" x2="264.08" y2="377.9" stroke="#7a7a7a" stroke-width="0.7"/>
<line x1="264.08" y1="379" x2="264.08" y2="379.5" stroke="#7a7a7a" stroke-width="0.7"/>
<rect x="262.83" y="377.9" width="2.5" height="1.1" fill="#8D458A" stroke="#3b3b3b" stroke-width="0.5"/>
<line x1="262.83" y1="378.4" x2="265.33" y2="378.4" stroke="#222" stroke-width="0.9"/>
<line x1="266.31" y1="358" x2="266.31" y2="364.1" stroke="#7a7a7a" stroke-width="0.7"/>
<line x1="266.31" y1="374.3" x2="266.31" y2="376" stroke="#7a7a7a" stroke-width="0.7"/>
<rect x="265.06" y="364.1" width="2.5" height="10.2" fill="#F58C19" stroke="#3b3b3b" stroke-width="0.5"/>
<line x1="265.06" y1="370.2" x2="267.56" y2="370.2" stroke="#222" stroke-width="0.9"/>
<line x1="268.54" y1="370" x2="268.54" y2="373" stroke="#7a7a7a" stroke-width="0.7"/>
<line x1="268.54" y1="380.5" x2="268.54" y2="383" stroke="#7a7a7a" stroke-width="0.7"/>
<rect x="267.29" y="373" width="2.5" height="7.5" fill="#EE69AA" stroke="#3b3b3b" stroke-width="0.5"/>
<line x1="267.29" y1="378" x2="269.79" y2="378" stroke="#222" stroke-width="0.9"/>
<line x1="270.77" y1="361.1" x2="270.77" y2="368.2" stroke="#7a7a7a" stroke-width="0.7"/>
<line x1="270.77" y1="398.9" x2="270.77" y2="403.6" stroke="#7a7a7a" stroke-width="0.7"/>
<rect x="269.52" y="368.2" width="2.5" height="30.7" fill="#93602F" stroke="#3b3b3b" stroke-width="0.5"/>
<line x1="269.52" y1="382.9" x2="272.02" y2="382.9" stroke="#222" stroke-width="0.9"/>
<line x1="283" y1="387" x2="283" y2="390.3" stroke="#7a7a7a" stroke-width="0.7"/>
<line x1="283" y1="402" x2="283" y2="411.5" stroke="#7a7a7a" stroke-width="0.7"/>
<rect x="281.75" y="390.3" width="2.5" height="11.7" fill="#D7302F" stroke="#3b3b3b" stroke-width="0.5"/>
<line x1="281.75" y1="399.5" x2="284.25" y2="399.5" stroke="#222" stroke-width="0.9"/>
<line x1="285.23" y1="370" x2="285.23" y2="375" stroke="#7a7a7a" stroke-width="0.7"/>
<line x1="285.23" y1="390" x2="285.23" y2="393" stroke="#7a7a7a" stroke-width="0.7"/>
<rect x="283.98" y="375" width="2.5" height="15" fill="#3A7DB6" stroke="#3b3b3b" stroke-width="0.5"/>
<line x1="283.98" y1="383.2" x2="286.48" y2="383.2" stroke="#222" stroke-width="0.9"/>
<line x1="287.46" y1="337.5" x2="287.46" y2="368.2" stroke="#7a7a7a" stroke-width="0.7"/>
<line x1="287.46" y1="393.8" x2="287.46" y2="420.7" stroke="#7a7a7a" stroke-width="0.7"/>
<rect x="286.21" y="368.2" width="2.5" height="25.6" fill="#4DB348" stroke="#3b3b3b" stroke-width="0.5"/>
<line x1="286.21" y1="383.2" x2="288.71" y2="383.2" stroke="#222" stroke-width="0.9"/>
<line x1="289.69" y1="339.5" x2="289.69" y2="340" stroke="#7a7a7a" stroke-width="0.7"/>
<line x1="289.69" y1="341.1" x2="289.69" y2="341.5" stroke="#7a7a7a" stroke-width="0.7"/>
<rect x="288.44" y="340" width="2.5" height="1.1" fill="#8D458A" stroke="#3b3b3b" stroke-width="0.5"/>
<line x1="288.44" y1="340.5" x2="290.94" y2="340.5" stroke="#222" stroke-width="0.9"/>
<line x1="291.92" y1="332.5" x2="291.92" y2="338.5" stroke="#7a7a7a" stroke-width="0.7"/>
<line x1="291.92" y1="346.4" x2="291.92" y2="348" stroke="#7a7a7a" stroke-width="0.7"/>
<rect x="290.67" y="338.5" width="2.5" height="7.9" fill="#F58C19" stroke="#3b3b3b" stroke-width="0.5"/>
<line x1="290.67" y1="342" x2="293.17" y2="342" stroke="#222" stroke-width="0.9"/>
<line x1="294.15" y1="342" x2="294.15" y2="344.3" stroke="#7a7a7a" stroke-width="0.7"/>
<line x1="294.15" y1="350.2" x2="294.15" y2="352" stroke="#7a7a7a" stroke-width="0.7"/>
<rect x="292.9" y="344.3" width="2.5" height="5.9" fill="#EE69AA" stroke="#3b3b3b" stroke-width="0.5"/>
<line x1="292.9" y1="348" x2="295.4" y2="348" stroke="#222" stroke-width="0.9"/>
<line x1="296.38" y1="335.2" x2="296.38" y2="341.2" stroke="#7a7a7a" stroke-width="0.7"/>
<line x1="296.38" y1="368.5" x2="296.38" y2="375.7" stroke="#7a7a7a" stroke-width="0.7"/>
<rect x="295.13" y="341.2" width="2.5" height="27.3" fill="#93602F" stroke="#3b3b3b" stroke-width="0.5"/>
<line x1="295.13" y1="353.2" x2="297.63" y2="353.2" stroke="#222" stroke-width="0.9"/>
<line x1="308.61" y1="344" x2="308.61" y2="346.2" stroke="#7a7a7a" stroke-width="0.7"/>
<line x1="308.61" y1="356.8" x2="308.61" y2="366.4" stroke="#7a7a7a" stroke-width="0.7"/>
<rect x="307.36" y="346.2" width="2.5" height="10.6" fill="#D7302F" stroke="#3b3b3b" stroke-width="0.5"/>
<line x1="307.36" y1="352" x2="309.86" y2="352" stroke="#222" stroke-width="0.9"/>
<line x1="310.84" y1="330" x2="310.84" y2="333.3" stroke="#7a7a7a" stroke-width="0.7"/>
<line x1="310.84" y1="345.7" x2="310.84" y2="348" stroke="#7a7a7a" stroke-width="0.7"/>
<rect x="309.59" y="333.3" width="2.5" height="12.4" fill="#3A7DB6" stroke="#3b3b3b" stroke-width="0.5"/>
<line x1="309.59" y1="339.5" x2="312.09" y2="339.5" stroke="#222" stroke-width="0.9"/>
<line x1="313.07" y1="308.7" x2="313.07" y2="330" stroke="#7a7a7a" stroke-width="0.7"/>
<line x1="313.07" y1="352.1" x2="313.07" y2="381.9" stroke="#7a7a7a" stroke-width="0.7"/>
<rect x="311.82" y="330" width="2.5" height="22.1" fill="#4DB348" stroke="#3b3b3b" stroke-width="0.5"/>
<line x1="311.82" y1="342" x2="314.32" y2="342" stroke="#222" stroke-width="0.9"/>
<line x1="315.3" y1="309.5" x2="315.3" y2="310" stroke="#7a7a7a" stroke-width="0.7"/>
<line x1="315.3" y1="311.1" x2="315.3" y2="311.5" stroke="#7a7a7a" stroke-width="0.7"/>
<rect x="314.05" y="310" width="2.5" height="1.1" fill="#8D458A" stroke="#3b3b3b" stroke-width="0.5"/>
<line x1="314.05" y1="310.5" x2="316.55" y2="310.5" stroke="#222" stroke-width="0.9"/>
<line x1="317.53" y1="305.2" x2="317.53" y2="309.7" stroke="#7a7a7a" stroke-width="0.7"/>
<line x1="317.53" y1="314.6" x2="317.53" y2="316" stroke="#7a7a7a" stroke-width="0.7"/>
<rect x="316.28" y="309.7" width="2.5" height="4.9" fill="#F58C19" stroke="#3b3b3b" stroke-width="0.5"/>
<line x1="316.28" y1="312" x2="318.78" y2="312" stroke="#222" stroke-width="0.9"/>
<line x1="319.76" y1="311" x2="319.76" y2="312.4" stroke="#7a7a7a" stroke-width="0.7"/>
<line x1="319.76" y1="315.5" x2="319.76" y2="317" stroke="#7a7a7a" stroke-width="0.7"/>
<rect x="318.51" y="312.4" width="2.5" height="3.1" fill="#EE69AA" stroke="#3b3b3b" stroke-width="0.5"/>
<line x1="318.51" y1="314" x2="321.01" y2="314" stroke="#222" stroke-width="0.9"/>
<line x1="321.99" y1="307.2" x2="321.99" y2="311.2" stroke="#7a7a7a" stroke-width="0.7"/>
<line x1="321.99" y1="329.8" x2="321.99" y2="337.2" stroke="#7a7a7a" stroke-width="0.7"/>
<rect x="320.74" y="311.2" width="2.5" height="18.6" fill="#93602F" stroke="#3b3b3b" stroke-width="0.5"/>
<line x1="320.74" y1="318.4" x2="323.24" y2="318.4" stroke="#222" stroke-width="0.9"/>
<circle cx="56.4" cy="477.2" r="1.6" fill="#1a1a1a"/>
<circle cx="57.6" cy="476.2" r="1.6" fill="#1a1a1a"/>
<circle cx="58.6" cy="477.8" r="1.6" fill="#1a1a1a"/>
<circle cx="59.4" cy="476.6" r="1.6" fill="#1a1a1a"/>
<circle cx="57.4" cy="478" r="1.6" fill="#1a1a1a"/>
<circle cx="81.9" cy="477.4" r="1.6" fill="#1a1a1a"/>
<circle cx="83.1" cy="476.2" r="1.6" fill="#1a1a1a"/>
<circle cx="84.4" cy="477.6" r="1.6" fill="#1a1a1a"/>
<circle cx="85.4" cy="476.4" r="1.6" fill="#1a1a1a"/>
<circle cx="83.4" cy="478.2" r="1.6" fill="#1a1a1a"/>
<circle cx="107.8" cy="475.6" r="1.6" fill="#1a1a1a"/>
<circle cx="108.8" cy="473.2" r="1.6" fill="#1a1a1a"/>
<circle cx="110" cy="471.8" r="1.6" fill="#1a1a1a"/>
<circle cx="111.2" cy="472.6" r="1.6" fill="#1a1a1a"/>
<circle cx="110.6" cy="475" r="1.6" fill="#1a1a1a"/>
<circle cx="132.8" cy="461.6" r="1.6" fill="#1a1a1a"/>
<circle cx="134.2" cy="460.8" r="1.6" fill="#1a1a1a"/>
<circle cx="135.8" cy="461.2" r="1.6" fill="#1a1a1a"/>
<circle cx="137.2" cy="461.8" r="1.6" fill="#1a1a1a"/>
<circle cx="133.6" cy="465.7" r="1.6" fill="#1a1a1a"/>
<circle cx="133.6" cy="470" r="1.6" fill="#1a1a1a"/>
<circle cx="158.2" cy="446.6" r="1.6" fill="#1a1a1a"/>
<circle cx="159.6" cy="446" r="1.6" fill="#1a1a1a"/>
<circle cx="161" cy="446.6" r="1.6" fill="#1a1a1a"/>
<circle cx="159.5" cy="453.4" r="1.6" fill="#1a1a1a"/>
<circle cx="159.5" cy="459.4" r="1.6" fill="#1a1a1a"/>
<circle cx="183.6" cy="428.6" r="1.6" fill="#1a1a1a"/>
<circle cx="185" cy="428" r="1.6" fill="#1a1a1a"/>
<circle cx="186.4" cy="428.8" r="1.6" fill="#1a1a1a"/>
<circle cx="184.8" cy="437.4" r="1.6" fill="#1a1a1a"/>
<circle cx="209" cy="408.6" r="1.6" fill="#1a1a1a"/>
<circle cx="210.4" cy="408" r="1.6" fill="#1a1a1a"/>
<circle cx="211.8" cy="408.8" r="1.6" fill="#1a1a1a"/>
<circle cx="210.3" cy="418.8" r="1.6" fill="#1a1a1a"/>
<circle cx="235.2" cy="385.6" r="1.6" fill="#1a1a1a"/>
<circle cx="236.4" cy="387.4" r="1.6" fill="#1a1a1a"/>
<circle cx="237.4" cy="388.8" r="1.6" fill="#1a1a1a"/>
<circle cx="263.6" cy="365.5" r="1.6" fill="#1a1a1a"/>
<circle cx="289" cy="339.4" r="1.6" fill="#1a1a1a"/>
<circle cx="289.4" cy="352.1" r="1.6" fill="#1a1a1a"/>
<circle cx="314.8" cy="310.4" r="1.6" fill="#1a1a1a"/>
<circle cx="315.3" cy="319.2" r="1.6" fill="#1a1a1a"/>
<text x="352.6" y="265" font-size="15.5" font-weight="bold" fill="#000" stroke="#000" stroke-width="0.45">d</text>
<line x1="397" y1="274" x2="397" y2="488" stroke="#888888" stroke-width="1"/>
<line x1="392.7" y1="436.1" x2="397" y2="436.1" stroke="#8e8e8e" stroke-width="1"/>
<text x="388.6" y="439.45" font-size="9.3" text-anchor="end">0.25</text>
<line x1="392.7" y1="383.8" x2="397" y2="383.8" stroke="#8e8e8e" stroke-width="1"/>
<text x="388.6" y="387.15" font-size="9.3" text-anchor="end">0.50</text>
<line x1="392.7" y1="331.5" x2="397" y2="331.5" stroke="#8e8e8e" stroke-width="1"/>
<text x="388.6" y="334.85" font-size="9.3" text-anchor="end">0.75</text>
<line x1="392.7" y1="279.2" x2="397" y2="279.2" stroke="#8e8e8e" stroke-width="1"/>
<text x="388.6" y="282.55" font-size="9.3" text-anchor="end">1.00</text>
<line x1="396.5" y1="487.5" x2="680.5" y2="487.5" stroke="#888888" stroke-width="1"/>
<line x1="411.6" y1="487.5" x2="411.6" y2="492" stroke="#8e8e8e" stroke-width="1"/>
<text x="411.6" y="504" font-size="9.3" text-anchor="middle">0.01</text>
<line x1="437.23" y1="487.5" x2="437.23" y2="492" stroke="#8e8e8e" stroke-width="1"/>
<text x="437.23" y="504" font-size="9.3" text-anchor="middle">0.05</text>
<line x1="462.86" y1="487.5" x2="462.86" y2="492" stroke="#8e8e8e" stroke-width="1"/>
<text x="462.86" y="504" font-size="9.3" text-anchor="middle">0.10</text>
<line x1="488.49" y1="487.5" x2="488.49" y2="492" stroke="#8e8e8e" stroke-width="1"/>
<text x="488.49" y="504" font-size="9.3" text-anchor="middle">0.20</text>
<line x1="514.12" y1="487.5" x2="514.12" y2="492" stroke="#8e8e8e" stroke-width="1"/>
<text x="514.12" y="504" font-size="9.3" text-anchor="middle">0.30</text>
<line x1="539.75" y1="487.5" x2="539.75" y2="492" stroke="#8e8e8e" stroke-width="1"/>
<text x="539.75" y="504" font-size="9.3" text-anchor="middle">0.40</text>
<line x1="565.38" y1="487.5" x2="565.38" y2="492" stroke="#8e8e8e" stroke-width="1"/>
<text x="565.38" y="504" font-size="9.3" text-anchor="middle">0.50</text>
<line x1="591.01" y1="487.5" x2="591.01" y2="492" stroke="#8e8e8e" stroke-width="1"/>
<text x="591.01" y="504" font-size="9.3" text-anchor="middle">0.60</text>
<line x1="616.64" y1="487.5" x2="616.64" y2="492" stroke="#8e8e8e" stroke-width="1"/>
<text x="616.64" y="504" font-size="9.3" text-anchor="middle">0.70</text>
<line x1="642.27" y1="487.5" x2="642.27" y2="492" stroke="#8e8e8e" stroke-width="1"/>
<text x="642.27" y="504" font-size="9.3" text-anchor="middle">0.80</text>
<line x1="667.9" y1="487.5" x2="667.9" y2="492" stroke="#8e8e8e" stroke-width="1"/>
<text x="667.9" y="504" font-size="9.3" text-anchor="middle">0.90</text>
<text x="540" y="519.9" font-size="10" text-anchor="middle" textLength="55.7" lengthAdjust="spacingAndGlyphs">Alpha value</text>
<text x="361.6" y="381" font-size="10" text-anchor="middle" textLength="61.7" lengthAdjust="spacingAndGlyphs" transform="rotate(-90 361.6 381)">PHE by GCSs</text>
<line x1="404.91" y1="440" x2="404.91" y2="443.1" stroke="#7a7a7a" stroke-width="0.7"/>
<line x1="404.91" y1="454.5" x2="404.91" y2="460.6" stroke="#7a7a7a" stroke-width="0.7"/>
<rect x="403.66" y="443.1" width="2.5" height="11.4" fill="#D7302F" stroke="#3b3b3b" stroke-width="0.5"/>
<line x1="403.66" y1="449.5" x2="406.16" y2="449.5" stroke="#222" stroke-width="0.9"/>
<line x1="407.14" y1="411" x2="407.14" y2="432.3" stroke="#7a7a7a" stroke-width="0.7"/>
<line x1="407.14" y1="447.5" x2="407.14" y2="450" stroke="#7a7a7a" stroke-width="0.7"/>
<rect x="405.89" y="432.3" width="2.5" height="15.2" fill="#3A7DB6" stroke="#3b3b3b" stroke-width="0.5"/>
<line x1="405.89" y1="443.6" x2="408.39" y2="443.6" stroke="#222" stroke-width="0.9"/>
<line x1="409.37" y1="447.3" x2="409.37" y2="458.3" stroke="#7a7a7a" stroke-width="0.7"/>
<line x1="409.37" y1="472.6" x2="409.37" y2="474" stroke="#7a7a7a" stroke-width="0.7"/>
<rect x="408.12" y="458.3" width="2.5" height="14.3" fill="#4DB348" stroke="#3b3b3b" stroke-width="0.5"/>
<line x1="408.12" y1="468" x2="410.62" y2="468" stroke="#222" stroke-width="0.9"/>
<line x1="411.6" y1="470" x2="411.6" y2="470.9" stroke="#7a7a7a" stroke-width="0.7"/>
<line x1="411.6" y1="473.8" x2="411.6" y2="477.3" stroke="#7a7a7a" stroke-width="0.7"/>
<rect x="410.35" y="470.9" width="2.5" height="2.9" fill="#8D458A" stroke="#3b3b3b" stroke-width="0.5"/>
<line x1="410.35" y1="472.5" x2="412.85" y2="472.5" stroke="#222" stroke-width="0.9"/>
<line x1="413.83" y1="420.3" x2="413.83" y2="437.2" stroke="#7a7a7a" stroke-width="0.7"/>
<line x1="413.83" y1="464.1" x2="413.83" y2="468" stroke="#7a7a7a" stroke-width="0.7"/>
<rect x="412.58" y="437.2" width="2.5" height="26.9" fill="#F58C19" stroke="#3b3b3b" stroke-width="0.5"/>
<line x1="412.58" y1="453.6" x2="415.08" y2="453.6" stroke="#222" stroke-width="0.9"/>
<line x1="416.06" y1="440" x2="416.06" y2="442.5" stroke="#7a7a7a" stroke-width="0.7"/>
<line x1="416.06" y1="447.2" x2="416.06" y2="450" stroke="#7a7a7a" stroke-width="0.7"/>
<rect x="414.81" y="442.5" width="2.5" height="4.7" fill="#EE69AA" stroke="#3b3b3b" stroke-width="0.5"/>
<line x1="414.81" y1="444.5" x2="417.31" y2="444.5" stroke="#222" stroke-width="0.9"/>
<line x1="418.29" y1="420.3" x2="418.29" y2="445.2" stroke="#7a7a7a" stroke-width="0.7"/>
<line x1="418.29" y1="467.6" x2="418.29" y2="475.5" stroke="#7a7a7a" stroke-width="0.7"/>
<rect x="417.04" y="445.2" width="2.5" height="22.4" fill="#93602F" stroke="#3b3b3b" stroke-width="0.5"/>
<line x1="417.04" y1="455.3" x2="419.54" y2="455.3" stroke="#222" stroke-width="0.9"/>
<line x1="430.54" y1="384.9" x2="430.54" y2="395.4" stroke="#7a7a7a" stroke-width="0.7"/>
<line x1="430.54" y1="420.3" x2="430.54" y2="426.7" stroke="#7a7a7a" stroke-width="0.7"/>
<rect x="429.29" y="395.4" width="2.5" height="24.9" fill="#D7302F" stroke="#3b3b3b" stroke-width="0.5"/>
<line x1="429.29" y1="411.8" x2="431.79" y2="411.8" stroke="#222" stroke-width="0.9"/>
<line x1="432.77" y1="370.3" x2="432.77" y2="395.4" stroke="#7a7a7a" stroke-width="0.7"/>
<line x1="432.77" y1="420.6" x2="432.77" y2="424" stroke="#7a7a7a" stroke-width="0.7"/>
<rect x="431.52" y="395.4" width="2.5" height="25.2" fill="#3A7DB6" stroke="#3b3b3b" stroke-width="0.5"/>
<line x1="431.52" y1="411.8" x2="434.02" y2="411.8" stroke="#222" stroke-width="0.9"/>
<line x1="435" y1="422" x2="435" y2="427" stroke="#7a7a7a" stroke-width="0.7"/>
<line x1="435" y1="454.5" x2="435" y2="456" stroke="#7a7a7a" stroke-width="0.7"/>
<rect x="433.75" y="427" width="2.5" height="27.5" fill="#4DB348" stroke="#3b3b3b" stroke-width="0.5"/>
<line x1="433.75" y1="447.5" x2="436.25" y2="447.5" stroke="#222" stroke-width="0.9"/>
<line x1="437.23" y1="450" x2="437.23" y2="451.6" stroke="#7a7a7a" stroke-width="0.7"/>
<line x1="437.23" y1="456.6" x2="437.23" y2="461.5" stroke="#7a7a7a" stroke-width="0.7"/>
<rect x="435.98" y="451.6" width="2.5" height="5" fill="#8D458A" stroke="#3b3b3b" stroke-width="0.5"/>
<line x1="435.98" y1="454" x2="438.48" y2="454" stroke="#222" stroke-width="0.9"/>
<line x1="439.46" y1="392.5" x2="439.46" y2="411.3" stroke="#7a7a7a" stroke-width="0.7"/>
<line x1="439.46" y1="443.1" x2="439.46" y2="450" stroke="#7a7a7a" stroke-width="0.7"/>
<rect x="438.21" y="411.3" width="2.5" height="31.8" fill="#F58C19" stroke="#3b3b3b" stroke-width="0.5"/>
<line x1="438.21" y1="430.5" x2="440.71" y2="430.5" stroke="#222" stroke-width="0.9"/>
<line x1="441.69" y1="405" x2="441.69" y2="410.6" stroke="#7a7a7a" stroke-width="0.7"/>
<line x1="441.69" y1="418.5" x2="441.69" y2="422" stroke="#7a7a7a" stroke-width="0.7"/>
<rect x="440.44" y="410.6" width="2.5" height="7.9" fill="#EE69AA" stroke="#3b3b3b" stroke-width="0.5"/>
<line x1="440.44" y1="413" x2="442.94" y2="413" stroke="#222" stroke-width="0.9"/>
<line x1="443.92" y1="399.3" x2="443.92" y2="409.2" stroke="#7a7a7a" stroke-width="0.7"/>
<line x1="443.92" y1="446.6" x2="443.92" y2="459.8" stroke="#7a7a7a" stroke-width="0.7"/>
<rect x="442.67" y="409.2" width="2.5" height="37.4" fill="#93602F" stroke="#3b3b3b" stroke-width="0.5"/>
<line x1="442.67" y1="427" x2="445.17" y2="427" stroke="#222" stroke-width="0.9"/>
<line x1="456.17" y1="369.1" x2="456.17" y2="380" stroke="#7a7a7a" stroke-width="0.7"/>
<line x1="456.17" y1="403.9" x2="456.17" y2="410" stroke="#7a7a7a" stroke-width="0.7"/>
<rect x="454.92" y="380" width="2.5" height="23.9" fill="#D7302F" stroke="#3b3b3b" stroke-width="0.5"/>
<line x1="454.92" y1="396.7" x2="457.42" y2="396.7" stroke="#222" stroke-width="0.9"/>
<line x1="458.4" y1="358.3" x2="458.4" y2="383.3" stroke="#7a7a7a" stroke-width="0.7"/>
<line x1="458.4" y1="404.8" x2="458.4" y2="412" stroke="#7a7a7a" stroke-width="0.7"/>
<rect x="457.15" y="383.3" width="2.5" height="21.5" fill="#3A7DB6" stroke="#3b3b3b" stroke-width="0.5"/>
<line x1="457.15" y1="397.3" x2="459.65" y2="397.3" stroke="#222" stroke-width="0.9"/>
<line x1="460.63" y1="400" x2="460.63" y2="406.6" stroke="#7a7a7a" stroke-width="0.7"/>
<line x1="460.63" y1="439.9" x2="460.63" y2="442" stroke="#7a7a7a" stroke-width="0.7"/>
<rect x="459.38" y="406.6" width="2.5" height="33.3" fill="#4DB348" stroke="#3b3b3b" stroke-width="0.5"/>
<line x1="459.38" y1="432.6" x2="461.88" y2="432.6" stroke="#222" stroke-width="0.9"/>
<line x1="462.86" y1="435" x2="462.86" y2="436.4" stroke="#7a7a7a" stroke-width="0.7"/>
<line x1="462.86" y1="441.7" x2="462.86" y2="446.4" stroke="#7a7a7a" stroke-width="0.7"/>
<rect x="461.61" y="436.4" width="2.5" height="5.3" fill="#8D458A" stroke="#3b3b3b" stroke-width="0.5"/>
<line x1="461.61" y1="439" x2="464.11" y2="439" stroke="#222" stroke-width="0.9"/>
<line x1="465.09" y1="373" x2="465.09" y2="393.7" stroke="#7a7a7a" stroke-width="0.7"/>
<line x1="465.09" y1="427.3" x2="465.09" y2="435" stroke="#7a7a7a" stroke-width="0.7"/>
<rect x="463.84" y="393.7" width="2.5" height="33.6" fill="#F58C19" stroke="#3b3b3b" stroke-width="0.5"/>
<line x1="463.84" y1="415" x2="466.34" y2="415" stroke="#222" stroke-width="0.9"/>
<line x1="467.32" y1="386.6" x2="467.32" y2="391.7" stroke="#7a7a7a" stroke-width="0.7"/>
<line x1="467.32" y1="401" x2="467.32" y2="405" stroke="#7a7a7a" stroke-width="0.7"/>
<rect x="466.07" y="391.7" width="2.5" height="9.3" fill="#EE69AA" stroke="#3b3b3b" stroke-width="0.5"/>
<line x1="466.07" y1="394" x2="468.57" y2="394" stroke="#222" stroke-width="0.9"/>
<line x1="469.55" y1="383.5" x2="469.55" y2="391.1" stroke="#7a7a7a" stroke-width="0.7"/>
<line x1="469.55" y1="427.9" x2="469.55" y2="445.8" stroke="#7a7a7a" stroke-width="0.7"/>
<rect x="468.3" y="391.1" width="2.5" height="36.8" fill="#93602F" stroke="#3b3b3b" stroke-width="0.5"/>
<line x1="468.3" y1="409.2" x2="470.8" y2="409.2" stroke="#222" stroke-width="0.9"/>
<line x1="481.8" y1="349.2" x2="481.8" y2="361" stroke="#7a7a7a" stroke-width="0.7"/>
<line x1="481.8" y1="382.1" x2="481.8" y2="388.9" stroke="#7a7a7a" stroke-width="0.7"/>
<rect x="480.55" y="361" width="2.5" height="21.1" fill="#D7302F" stroke="#3b3b3b" stroke-width="0.5"/>
<line x1="480.55" y1="376.5" x2="483.05" y2="376.5" stroke="#222" stroke-width="0.9"/>
<line x1="484.03" y1="342.4" x2="484.03" y2="365.4" stroke="#7a7a7a" stroke-width="0.7"/>
<line x1="484.03" y1="383.1" x2="484.03" y2="388" stroke="#7a7a7a" stroke-width="0.7"/>
<rect x="482.78" y="365.4" width="2.5" height="17.7" fill="#3A7DB6" stroke="#3b3b3b" stroke-width="0.5"/>
<line x1="482.78" y1="377.4" x2="485.28" y2="377.4" stroke="#222" stroke-width="0.9"/>
<line x1="486.26" y1="378" x2="486.26" y2="383.1" stroke="#7a7a7a" stroke-width="0.7"/>
<line x1="486.26" y1="416.8" x2="486.26" y2="420.6" stroke="#7a7a7a" stroke-width="0.7"/>
<rect x="485.01" y="383.1" width="2.5" height="33.7" fill="#4DB348" stroke="#3b3b3b" stroke-width="0.5"/>
<line x1="485.01" y1="409.2" x2="487.51" y2="409.2" stroke="#222" stroke-width="0.9"/>
<line x1="488.49" y1="409" x2="488.49" y2="410.9" stroke="#7a7a7a" stroke-width="0.7"/>
<line x1="488.49" y1="416.8" x2="488.49" y2="420.6" stroke="#7a7a7a" stroke-width="0.7"/>
<rect x="487.24" y="410.9" width="2.5" height="5.9" fill="#8D458A" stroke="#3b3b3b" stroke-width="0.5"/>
<line x1="487.24" y1="413.5" x2="489.74" y2="413.5" stroke="#222" stroke-width="0.9"/>
<line x1="490.72" y1="351.7" x2="490.72" y2="371.2" stroke="#7a7a7a" stroke-width="0.7"/>
<line x1="490.72" y1="402.2" x2="490.72" y2="410" stroke="#7a7a7a" stroke-width="0.7"/>
<rect x="489.47" y="371.2" width="2.5" height="31" fill="#F58C19" stroke="#3b3b3b" stroke-width="0.5"/>
<line x1="489.47" y1="391" x2="491.97" y2="391" stroke="#222" stroke-width="0.9"/>
<line x1="492.95" y1="356.7" x2="492.95" y2="364.7" stroke="#7a7a7a" stroke-width="0.7"/>
<line x1="492.95" y1="377.4" x2="492.95" y2="382" stroke="#7a7a7a" stroke-width="0.7"/>
<rect x="491.7" y="364.7" width="2.5" height="12.7" fill="#EE69AA" stroke="#3b3b3b" stroke-width="0.5"/>
<line x1="491.7" y1="372.4" x2="494.2" y2="372.4" stroke="#222" stroke-width="0.9"/>
<line x1="495.18" y1="361" x2="495.18" y2="368.2" stroke="#7a7a7a" stroke-width="0.7"/>
<line x1="495.18" y1="400.7" x2="495.18" y2="421.8" stroke="#7a7a7a" stroke-width="0.7"/>
<rect x="493.93" y="368.2" width="2.5" height="32.5" fill="#93602F" stroke="#3b3b3b" stroke-width="0.5"/>
<line x1="493.93" y1="384.3" x2="496.43" y2="384.3" stroke="#222" stroke-width="0.9"/>
<line x1="507.43" y1="335" x2="507.43" y2="346.1" stroke="#7a7a7a" stroke-width="0.7"/>
<line x1="507.43" y1="363.5" x2="507.43" y2="369.5" stroke="#7a7a7a" stroke-width="0.7"/>
<rect x="506.18" y="346.1" width="2.5" height="17.4" fill="#D7302F" stroke="#3b3b3b" stroke-width="0.5"/>
<line x1="506.18" y1="358.5" x2="508.68" y2="358.5" stroke="#222" stroke-width="0.9"/>
<line x1="509.66" y1="325" x2="509.66" y2="349.9" stroke="#7a7a7a" stroke-width="0.7"/>
<line x1="509.66" y1="364.1" x2="509.66" y2="369" stroke="#7a7a7a" stroke-width="0.7"/>
<rect x="508.41" y="349.9" width="2.5" height="14.2" fill="#3A7DB6" stroke="#3b3b3b" stroke-width="0.5"/>
<line x1="508.41" y1="360.4" x2="510.91" y2="360.4" stroke="#222" stroke-width="0.9"/>
<line x1="511.89" y1="355" x2="511.89" y2="363.5" stroke="#7a7a7a" stroke-width="0.7"/>
<line x1="511.89" y1="394.5" x2="511.89" y2="398.2" stroke="#7a7a7a" stroke-width="0.7"/>
<rect x="510.64" y="363.5" width="2.5" height="31" fill="#4DB348" stroke="#3b3b3b" stroke-width="0.5"/>
<line x1="510.64" y1="387.3" x2="513.14" y2="387.3" stroke="#222" stroke-width="0.9"/>
<line x1="514.12" y1="388" x2="514.12" y2="389.3" stroke="#7a7a7a" stroke-width="0.7"/>
<line x1="514.12" y1="393.9" x2="514.12" y2="398.2" stroke="#7a7a7a" stroke-width="0.7"/>
<rect x="512.87" y="389.3" width="2.5" height="4.6" fill="#8D458A" stroke="#3b3b3b" stroke-width="0.5"/>
<line x1="512.87" y1="391.5" x2="515.37" y2="391.5" stroke="#222" stroke-width="0.9"/>
<line x1="516.35" y1="338.1" x2="516.35" y2="354.2" stroke="#7a7a7a" stroke-width="0.7"/>
<line x1="516.35" y1="380.9" x2="516.35" y2="390" stroke="#7a7a7a" stroke-width="0.7"/>
<rect x="515.1" y="354.2" width="2.5" height="26.7" fill="#F58C19" stroke="#3b3b3b" stroke-width="0.5"/>
<line x1="515.1" y1="370.3" x2="517.6" y2="370.3" stroke="#222" stroke-width="0.9"/>
<line x1="518.58" y1="335" x2="518.58" y2="344.6" stroke="#7a7a7a" stroke-width="0.7"/>
<line x1="518.58" y1="358.8" x2="518.58" y2="362" stroke="#7a7a7a" stroke-width="0.7"/>
<rect x="517.33" y="344.6" width="2.5" height="14.2" fill="#EE69AA" stroke="#3b3b3b" stroke-width="0.5"/>
<line x1="517.33" y1="354.6" x2="519.83" y2="354.6" stroke="#222" stroke-width="0.9"/>
<line x1="520.81" y1="345" x2="520.81" y2="350.1" stroke="#7a7a7a" stroke-width="0.7"/>
<line x1="520.81" y1="378.4" x2="520.81" y2="399.5" stroke="#7a7a7a" stroke-width="0.7"/>
<rect x="519.56" y="350.1" width="2.5" height="28.3" fill="#93602F" stroke="#3b3b3b" stroke-width="0.5"/>
<line x1="519.56" y1="364.1" x2="522.06" y2="364.1" stroke="#222" stroke-width="0.9"/>
<line x1="533.06" y1="321.9" x2="533.06" y2="332.7" stroke="#7a7a7a" stroke-width="0.7"/>
<line x1="533.06" y1="346.7" x2="533.06" y2="351.3" stroke="#7a7a7a" stroke-width="0.7"/>
<rect x="531.81" y="332.7" width="2.5" height="14" fill="#D7302F" stroke="#3b3b3b" stroke-width="0.5"/>
<line x1="531.81" y1="343" x2="534.31" y2="343" stroke="#222" stroke-width="0.9"/>
<line x1="535.29" y1="325" x2="535.29" y2="336.5" stroke="#7a7a7a" stroke-width="0.7"/>
<line x1="535.29" y1="347.4" x2="535.29" y2="352" stroke="#7a7a7a" stroke-width="0.7"/>
<rect x="534.04" y="336.5" width="2.5" height="10.9" fill="#3A7DB6" stroke="#3b3b3b" stroke-width="0.5"/>
<line x1="534.04" y1="344.6" x2="536.54" y2="344.6" stroke="#222" stroke-width="0.9"/>
<line x1="537.52" y1="340" x2="537.52" y2="346.7" stroke="#7a7a7a" stroke-width="0.7"/>
<line x1="537.52" y1="373.7" x2="537.52" y2="376" stroke="#7a7a7a" stroke-width="0.7"/>
<rect x="536.27" y="346.7" width="2.5" height="27" fill="#4DB348" stroke="#3b3b3b" stroke-width="0.5"/>
<line x1="536.27" y1="367" x2="538.77" y2="367" stroke="#222" stroke-width="0.9"/>
<line x1="539.75" y1="369" x2="539.75" y2="370" stroke="#7a7a7a" stroke-width="0.7"/>
<line x1="539.75" y1="373.7" x2="539.75" y2="375" stroke="#7a7a7a" stroke-width="0.7"/>
<rect x="538.5" y="370" width="2.5" height="3.7" fill="#8D458A" stroke="#3b3b3b" stroke-width="0.5"/>
<line x1="538.5" y1="372" x2="541" y2="372" stroke="#222" stroke-width="0.9"/>
<line x1="541.98" y1="327.7" x2="541.98" y2="340.1" stroke="#7a7a7a" stroke-width="0.7"/>
<line x1="541.98" y1="362.5" x2="541.98" y2="370" stroke="#7a7a7a" stroke-width="0.7"/>
<rect x="540.73" y="340.1" width="2.5" height="22.4" fill="#F58C19" stroke="#3b3b3b" stroke-width="0.5"/>
<line x1="540.73" y1="352.3" x2="543.23" y2="352.3" stroke="#222" stroke-width="0.9"/>
<line x1="544.21" y1="320.4" x2="544.21" y2="329.9" stroke="#7a7a7a" stroke-width="0.7"/>
<line x1="544.21" y1="343" x2="544.21" y2="346" stroke="#7a7a7a" stroke-width="0.7"/>
<rect x="542.96" y="329.9" width="2.5" height="13.1" fill="#EE69AA" stroke="#3b3b3b" stroke-width="0.5"/>
<line x1="542.96" y1="339.3" x2="545.46" y2="339.3" stroke="#222" stroke-width="0.9"/>
<line x1="546.44" y1="332" x2="546.44" y2="336.5" stroke="#7a7a7a" stroke-width="0.7"/>
<line x1="546.44" y1="359.2" x2="546.44" y2="378.4" stroke="#7a7a7a" stroke-width="0.7"/>
<rect x="545.19" y="336.5" width="2.5" height="22.7" fill="#93602F" stroke="#3b3b3b" stroke-width="0.5"/>
<line x1="545.19" y1="347.4" x2="547.69" y2="347.4" stroke="#222" stroke-width="0.9"/>
<line x1="558.69" y1="312.4" x2="558.69" y2="320.4" stroke="#7a7a7a" stroke-width="0.7"/>
<line x1="558.69" y1="332.1" x2="558.69" y2="335.8" stroke="#7a7a7a" stroke-width="0.7"/>
<rect x="557.44" y="320.4" width="2.5" height="11.7" fill="#D7302F" stroke="#3b3b3b" stroke-width="0.5"/>
<line x1="557.44" y1="329.9" x2="559.94" y2="329.9" stroke="#222" stroke-width="0.9"/>
<line x1="560.92" y1="315" x2="560.92" y2="324.1" stroke="#7a7a7a" stroke-width="0.7"/>
<line x1="560.92" y1="332.4" x2="560.92" y2="336" stroke="#7a7a7a" stroke-width="0.7"/>
<rect x="559.67" y="324.1" width="2.5" height="8.3" fill="#3A7DB6" stroke="#3b3b3b" stroke-width="0.5"/>
<line x1="559.67" y1="330.4" x2="562.17" y2="330.4" stroke="#222" stroke-width="0.9"/>
<line x1="563.15" y1="328" x2="563.15" y2="332.4" stroke="#7a7a7a" stroke-width="0.7"/>
<line x1="563.15" y1="354.3" x2="563.15" y2="357" stroke="#7a7a7a" stroke-width="0.7"/>
<rect x="561.9" y="332.4" width="2.5" height="21.9" fill="#4DB348" stroke="#3b3b3b" stroke-width="0.5"/>
<line x1="561.9" y1="349.3" x2="564.4" y2="349.3" stroke="#222" stroke-width="0.9"/>
<line x1="565.38" y1="353" x2="565.38" y2="353.1" stroke="#7a7a7a" stroke-width="0.7"/>
<line x1="565.38" y1="355.7" x2="565.38" y2="357" stroke="#7a7a7a" stroke-width="0.7"/>
<rect x="564.13" y="353.1" width="2.5" height="2.6" fill="#8D458A" stroke="#3b3b3b" stroke-width="0.5"/>
<line x1="564.13" y1="354.5" x2="566.63" y2="354.5" stroke="#222" stroke-width="0.9"/>
<line x1="567.61" y1="318" x2="567.61" y2="328" stroke="#7a7a7a" stroke-width="0.7"/>
<line x1="567.61" y1="346.4" x2="567.61" y2="352" stroke="#7a7a7a" stroke-width="0.7"/>
<rect x="566.36" y="328" width="2.5" height="18.4" fill="#F58C19" stroke="#3b3b3b" stroke-width="0.5"/>
<line x1="566.36" y1="337.7" x2="568.86" y2="337.7" stroke="#222" stroke-width="0.9"/>
<line x1="569.84" y1="310.2" x2="569.84" y2="318.2" stroke="#7a7a7a" stroke-width="0.7"/>
<line x1="569.84" y1="329.9" x2="569.84" y2="333" stroke="#7a7a7a" stroke-width="0.7"/>
<rect x="568.59" y="318.2" width="2.5" height="11.7" fill="#EE69AA" stroke="#3b3b3b" stroke-width="0.5"/>
<line x1="568.59" y1="327" x2="571.09" y2="327" stroke="#222" stroke-width="0.9"/>
<line x1="572.07" y1="320" x2="572.07" y2="325.1" stroke="#7a7a7a" stroke-width="0.7"/>
<line x1="572.07" y1="342.6" x2="572.07" y2="359.9" stroke="#7a7a7a" stroke-width="0.7"/>
<rect x="570.82" y="325.1" width="2.5" height="17.5" fill="#93602F" stroke="#3b3b3b" stroke-width="0.5"/>
<line x1="570.82" y1="332.8" x2="573.32" y2="332.8" stroke="#222" stroke-width="0.9"/>
<line x1="584.32" y1="302.9" x2="584.32" y2="309.9" stroke="#7a7a7a" stroke-width="0.7"/>
<line x1="584.32" y1="319.3" x2="584.32" y2="321.9" stroke="#7a7a7a" stroke-width="0.7"/>
<rect x="583.07" y="309.9" width="2.5" height="9.4" fill="#D7302F" stroke="#3b3b3b" stroke-width="0.5"/>
<line x1="583.07" y1="316.4" x2="585.57" y2="316.4" stroke="#222" stroke-width="0.9"/>
<line x1="586.55" y1="302.9" x2="586.55" y2="313.4" stroke="#7a7a7a" stroke-width="0.7"/>
<line x1="586.55" y1="319.7" x2="586.55" y2="322" stroke="#7a7a7a" stroke-width="0.7"/>
<rect x="585.3" y="313.4" width="2.5" height="6.3" fill="#3A7DB6" stroke="#3b3b3b" stroke-width="0.5"/>
<line x1="585.3" y1="317" x2="587.8" y2="317" stroke="#222" stroke-width="0.9"/>
<line x1="588.78" y1="316" x2="588.78" y2="319.7" stroke="#7a7a7a" stroke-width="0.7"/>
<line x1="588.78" y1="337.2" x2="588.78" y2="339" stroke="#7a7a7a" stroke-width="0.7"/>
<rect x="587.53" y="319.7" width="2.5" height="17.5" fill="#4DB348" stroke="#3b3b3b" stroke-width="0.5"/>
<line x1="587.53" y1="333.3" x2="590.03" y2="333.3" stroke="#222" stroke-width="0.9"/>
<line x1="591.01" y1="339.2" x2="591.01" y2="340" stroke="#7a7a7a" stroke-width="0.7"/>
<rect x="589.76" y="337" width="2.5" height="2.2" fill="#8D458A" stroke="#3b3b3b" stroke-width="0.5"/>
<line x1="589.76" y1="338" x2="592.26" y2="338" stroke="#222" stroke-width="0.9"/>
<line x1="593.24" y1="310" x2="593.24" y2="317.2" stroke="#7a7a7a" stroke-width="0.7"/>
<line x1="593.24" y1="331.4" x2="593.24" y2="335" stroke="#7a7a7a" stroke-width="0.7"/>
<rect x="591.99" y="317.2" width="2.5" height="14.2" fill="#F58C19" stroke="#3b3b3b" stroke-width="0.5"/>
<line x1="591.99" y1="324.5" x2="594.49" y2="324.5" stroke="#222" stroke-width="0.9"/>
<line x1="595.47" y1="302.2" x2="595.47" y2="309.1" stroke="#7a7a7a" stroke-width="0.7"/>
<line x1="595.47" y1="318.2" x2="595.47" y2="321" stroke="#7a7a7a" stroke-width="0.7"/>
<rect x="594.22" y="309.1" width="2.5" height="9.1" fill="#EE69AA" stroke="#3b3b3b" stroke-width="0.5"/>
<line x1="594.22" y1="315.3" x2="596.72" y2="315.3" stroke="#222" stroke-width="0.9"/>
<line x1="597.7" y1="310" x2="597.7" y2="314.6" stroke="#7a7a7a" stroke-width="0.7"/>
<line x1="597.7" y1="327.7" x2="597.7" y2="342.3" stroke="#7a7a7a" stroke-width="0.7"/>
<rect x="596.45" y="314.6" width="2.5" height="13.1" fill="#93602F" stroke="#3b3b3b" stroke-width="0.5"/>
<line x1="596.45" y1="320.4" x2="598.95" y2="320.4" stroke="#222" stroke-width="0.9"/>
<line x1="609.95" y1="295.9" x2="609.95" y2="300.5" stroke="#7a7a7a" stroke-width="0.7"/>
<line x1="609.95" y1="307.9" x2="609.95" y2="310" stroke="#7a7a7a" stroke-width="0.7"/>
<rect x="608.7" y="300.5" width="2.5" height="7.4" fill="#D7302F" stroke="#3b3b3b" stroke-width="0.5"/>
<line x1="608.7" y1="305.4" x2="611.2" y2="305.4" stroke="#222" stroke-width="0.9"/>
<line x1="612.18" y1="296.1" x2="612.18" y2="303" stroke="#7a7a7a" stroke-width="0.7"/>
<line x1="612.18" y1="307.3" x2="612.18" y2="309" stroke="#7a7a7a" stroke-width="0.7"/>
<rect x="610.93" y="303" width="2.5" height="4.3" fill="#3A7DB6" stroke="#3b3b3b" stroke-width="0.5"/>
<line x1="610.93" y1="305.5" x2="613.43" y2="305.5" stroke="#222" stroke-width="0.9"/>
<line x1="614.41" y1="305" x2="614.41" y2="308.5" stroke="#7a7a7a" stroke-width="0.7"/>
<line x1="614.41" y1="320.7" x2="614.41" y2="322" stroke="#7a7a7a" stroke-width="0.7"/>
<rect x="613.16" y="308.5" width="2.5" height="12.2" fill="#4DB348" stroke="#3b3b3b" stroke-width="0.5"/>
<line x1="613.16" y1="319.5" x2="615.66" y2="319.5" stroke="#222" stroke-width="0.9"/>
<line x1="616.64" y1="321" x2="616.64" y2="321.4" stroke="#7a7a7a" stroke-width="0.7"/>
<line x1="616.64" y1="323" x2="616.64" y2="323.5" stroke="#7a7a7a" stroke-width="0.7"/>
<rect x="615.39" y="321.4" width="2.5" height="1.6" fill="#8D458A" stroke="#3b3b3b" stroke-width="0.5"/>
<line x1="615.39" y1="322.2" x2="617.89" y2="322.2" stroke="#222" stroke-width="0.9"/>
<line x1="618.87" y1="303" x2="618.87" y2="307" stroke="#7a7a7a" stroke-width="0.7"/>
<line x1="618.87" y1="317.8" x2="618.87" y2="320" stroke="#7a7a7a" stroke-width="0.7"/>
<rect x="617.62" y="307" width="2.5" height="10.8" fill="#F58C19" stroke="#3b3b3b" stroke-width="0.5"/>
<line x1="617.62" y1="312.5" x2="620.12" y2="312.5" stroke="#222" stroke-width="0.9"/>
<line x1="621.1" y1="295.5" x2="621.1" y2="300.5" stroke="#7a7a7a" stroke-width="0.7"/>
<line x1="621.1" y1="306.7" x2="621.1" y2="309" stroke="#7a7a7a" stroke-width="0.7"/>
<rect x="619.85" y="300.5" width="2.5" height="6.2" fill="#EE69AA" stroke="#3b3b3b" stroke-width="0.5"/>
<line x1="619.85" y1="305.4" x2="622.35" y2="305.4" stroke="#222" stroke-width="0.9"/>
<line x1="623.33" y1="302" x2="623.33" y2="305.4" stroke="#7a7a7a" stroke-width="0.7"/>
<line x1="623.33" y1="314.1" x2="623.33" y2="325.3" stroke="#7a7a7a" stroke-width="0.7"/>
<rect x="622.08" y="305.4" width="2.5" height="8.7" fill="#93602F" stroke="#3b3b3b" stroke-width="0.5"/>
<line x1="622.08" y1="309.2" x2="624.58" y2="309.2" stroke="#222" stroke-width="0.9"/>
<line x1="635.58" y1="289.7" x2="635.58" y2="292.4" stroke="#7a7a7a" stroke-width="0.7"/>
<line x1="635.58" y1="296.7" x2="635.58" y2="298" stroke="#7a7a7a" stroke-width="0.7"/>
<rect x="634.33" y="292.4" width="2.5" height="4.3" fill="#D7302F" stroke="#3b3b3b" stroke-width="0.5"/>
<line x1="634.33" y1="294.5" x2="636.83" y2="294.5" stroke="#222" stroke-width="0.9"/>
<line x1="637.81" y1="292" x2="637.81" y2="294.3" stroke="#7a7a7a" stroke-width="0.7"/>
<line x1="637.81" y1="296.7" x2="637.81" y2="298" stroke="#7a7a7a" stroke-width="0.7"/>
<rect x="636.56" y="294.3" width="2.5" height="2.4" fill="#3A7DB6" stroke="#3b3b3b" stroke-width="0.5"/>
<line x1="636.56" y1="295.5" x2="639.06" y2="295.5" stroke="#222" stroke-width="0.9"/>
<line x1="640.04" y1="296" x2="640.04" y2="298.4" stroke="#7a7a7a" stroke-width="0.7"/>
<line x1="640.04" y1="305.4" x2="640.04" y2="307" stroke="#7a7a7a" stroke-width="0.7"/>
<rect x="638.79" y="298.4" width="2.5" height="7" fill="#4DB348" stroke="#3b3b3b" stroke-width="0.5"/>
<line x1="638.79" y1="303" x2="641.29" y2="303" stroke="#222" stroke-width="0.9"/>
<line x1="642.27" y1="307" x2="642.27" y2="307.2" stroke="#7a7a7a" stroke-width="0.7"/>
<line x1="642.27" y1="308.6" x2="642.27" y2="309" stroke="#7a7a7a" stroke-width="0.7"/>
<rect x="641.02" y="307.2" width="2.5" height="1.4" fill="#8D458A" stroke="#3b3b3b" stroke-width="0.5"/>
<line x1="641.02" y1="307.9" x2="643.52" y2="307.9" stroke="#222" stroke-width="0.9"/>
<line x1="644.5" y1="295" x2="644.5" y2="297.4" stroke="#7a7a7a" stroke-width="0.7"/>
<line x1="644.5" y1="304.2" x2="644.5" y2="306" stroke="#7a7a7a" stroke-width="0.7"/>
<rect x="643.25" y="297.4" width="2.5" height="6.8" fill="#F58C19" stroke="#3b3b3b" stroke-width="0.5"/>
<line x1="643.25" y1="300.5" x2="645.75" y2="300.5" stroke="#222" stroke-width="0.9"/>
<line x1="646.73" y1="289.3" x2="646.73" y2="293" stroke="#7a7a7a" stroke-width="0.7"/>
<line x1="646.73" y1="296.1" x2="646.73" y2="297.5" stroke="#7a7a7a" stroke-width="0.7"/>
<rect x="645.48" y="293" width="2.5" height="3.1" fill="#EE69AA" stroke="#3b3b3b" stroke-width="0.5"/>
<line x1="645.48" y1="294.5" x2="647.98" y2="294.5" stroke="#222" stroke-width="0.9"/>
<line x1="648.96" y1="294" x2="648.96" y2="296.1" stroke="#7a7a7a" stroke-width="0.7"/>
<line x1="648.96" y1="301.7" x2="648.96" y2="308.5" stroke="#7a7a7a" stroke-width="0.7"/>
<rect x="647.71" y="296.1" width="2.5" height="5.6" fill="#93602F" stroke="#3b3b3b" stroke-width="0.5"/>
<line x1="647.71" y1="299.2" x2="650.21" y2="299.2" stroke="#222" stroke-width="0.9"/>
<line x1="661.21" y1="284" x2="661.21" y2="285" stroke="#7a7a7a" stroke-width="0.7"/>
<line x1="661.21" y1="287.2" x2="661.21" y2="288" stroke="#7a7a7a" stroke-width="0.7"/>
<rect x="659.96" y="285" width="2.5" height="2.2" fill="#D7302F" stroke="#3b3b3b" stroke-width="0.5"/>
<line x1="659.96" y1="286" x2="662.46" y2="286" stroke="#222" stroke-width="0.9"/>
<line x1="663.44" y1="285" x2="663.44" y2="285.6" stroke="#7a7a7a" stroke-width="0.7"/>
<line x1="663.44" y1="287.4" x2="663.44" y2="288" stroke="#7a7a7a" stroke-width="0.7"/>
<rect x="662.19" y="285.6" width="2.5" height="1.8" fill="#3A7DB6" stroke="#3b3b3b" stroke-width="0.5"/>
<line x1="662.19" y1="286.5" x2="664.69" y2="286.5" stroke="#222" stroke-width="0.9"/>
<line x1="665.67" y1="287.5" x2="665.67" y2="288.4" stroke="#7a7a7a" stroke-width="0.7"/>
<line x1="665.67" y1="291.8" x2="665.67" y2="292.5" stroke="#7a7a7a" stroke-width="0.7"/>
<rect x="664.42" y="288.4" width="2.5" height="3.4" fill="#4DB348" stroke="#3b3b3b" stroke-width="0.5"/>
<line x1="664.42" y1="290" x2="666.92" y2="290" stroke="#222" stroke-width="0.9"/>
<line x1="667.9" y1="292" x2="667.9" y2="292.3" stroke="#7a7a7a" stroke-width="0.7"/>
<line x1="667.9" y1="293.5" x2="667.9" y2="294" stroke="#7a7a7a" stroke-width="0.7"/>
<rect x="666.65" y="292.3" width="2.5" height="1.2" fill="#8D458A" stroke="#3b3b3b" stroke-width="0.5"/>
<line x1="666.65" y1="292.9" x2="669.15" y2="292.9" stroke="#222" stroke-width="0.9"/>
<line x1="670.13" y1="287" x2="670.13" y2="288.1" stroke="#7a7a7a" stroke-width="0.7"/>
<line x1="670.13" y1="291.8" x2="670.13" y2="292.5" stroke="#7a7a7a" stroke-width="0.7"/>
<rect x="668.88" y="288.1" width="2.5" height="3.7" fill="#F58C19" stroke="#3b3b3b" stroke-width="0.5"/>
<line x1="668.88" y1="290" x2="671.38" y2="290" stroke="#222" stroke-width="0.9"/>
<line x1="672.36" y1="284.3" x2="672.36" y2="285.6" stroke="#7a7a7a" stroke-width="0.7"/>
<line x1="672.36" y1="287.7" x2="672.36" y2="288.5" stroke="#7a7a7a" stroke-width="0.7"/>
<rect x="671.11" y="285.6" width="2.5" height="2.1" fill="#EE69AA" stroke="#3b3b3b" stroke-width="0.5"/>
<line x1="671.11" y1="286.5" x2="673.61" y2="286.5" stroke="#222" stroke-width="0.9"/>
<line x1="674.59" y1="286.5" x2="674.59" y2="287.4" stroke="#7a7a7a" stroke-width="0.7"/>
<line x1="674.59" y1="290.2" x2="674.59" y2="293.6" stroke="#7a7a7a" stroke-width="0.7"/>
<rect x="673.34" y="287.4" width="2.5" height="2.8" fill="#93602F" stroke="#3b3b3b" stroke-width="0.5"/>
<line x1="673.34" y1="288.8" x2="675.84" y2="288.8" stroke="#222" stroke-width="0.9"/>
<circle cx="409.7" cy="413.9" r="1.6" fill="#1a1a1a"/>
<circle cx="411.8" cy="465.3" r="1.6" fill="#1a1a1a"/>
<circle cx="437.5" cy="441" r="1.6" fill="#1a1a1a"/>
<circle cx="462.6" cy="423.8" r="1.6" fill="#1a1a1a"/>
<circle cx="488.4" cy="397.6" r="1.6" fill="#1a1a1a"/>
<circle cx="514.1" cy="377.8" r="1.6" fill="#1a1a1a"/>
<circle cx="535.3" cy="319" r="1.6" fill="#1a1a1a"/>
<circle cx="539.5" cy="361" r="1.6" fill="#1a1a1a"/>
<circle cx="539.7" cy="378.8" r="1.6" fill="#1a1a1a"/>
<circle cx="561" cy="310.2" r="1.6" fill="#1a1a1a"/>
<circle cx="565.4" cy="345.5" r="1.6" fill="#1a1a1a"/>
<circle cx="565.4" cy="360.6" r="1.6" fill="#1a1a1a"/>
<circle cx="591.2" cy="331" r="1.6" fill="#1a1a1a"/>
<circle cx="591.2" cy="343.1" r="1.6" fill="#1a1a1a"/>
<circle cx="616.7" cy="317.2" r="1.6" fill="#1a1a1a"/>
<circle cx="616.7" cy="326.5" r="1.6" fill="#1a1a1a"/>
<circle cx="642.2" cy="304.2" r="1.6" fill="#1a1a1a"/>
<text x="0.4" y="543.6" font-size="15.5" font-weight="bold" fill="#000" stroke="#000" stroke-width="0.45">e</text>
<line x1="43.5" y1="543.6" x2="43.5" y2="758" stroke="#888888" stroke-width="1"/>
<line x1="39.2" y1="747.6" x2="43.5" y2="747.6" stroke="#8e8e8e" stroke-width="1"/>
<text x="35.4" y="750.95" font-size="9.4" text-anchor="end">0</text>
<line x1="39.2" y1="686.9" x2="43.5" y2="686.9" stroke="#8e8e8e" stroke-width="1"/>
<text x="35.4" y="690.25" font-size="9.4" text-anchor="end">0.2</text>
<line x1="39.2" y1="626.2" x2="43.5" y2="626.2" stroke="#8e8e8e" stroke-width="1"/>
<text x="35.4" y="629.55" font-size="9.4" text-anchor="end">0.4</text>
<line x1="39.2" y1="565.5" x2="43.5" y2="565.5" stroke="#8e8e8e" stroke-width="1"/>
<text x="35.4" y="568.85" font-size="9.4" text-anchor="end">0.6</text>
<line x1="43" y1="757.5" x2="334.9" y2="757.5" stroke="#888888" stroke-width="1"/>
<line x1="59.4" y1="757.5" x2="59.4" y2="762" stroke="#8e8e8e" stroke-width="1"/>
<text x="64.4" y="770" font-size="9.3" text-anchor="end" transform="rotate(-45 64.4 770)">10</text>
<line x1="85.41" y1="757.5" x2="85.41" y2="762" stroke="#8e8e8e" stroke-width="1"/>
<text x="90.41" y="770" font-size="9.3" text-anchor="end" transform="rotate(-45 90.41 770)">50</text>
<line x1="111.42" y1="757.5" x2="111.42" y2="762" stroke="#8e8e8e" stroke-width="1"/>
<text x="116.42" y="770" font-size="9.3" text-anchor="end" transform="rotate(-45 116.42 770)">100</text>
<line x1="137.43" y1="757.5" x2="137.43" y2="762" stroke="#8e8e8e" stroke-width="1"/>
<text x="142.43" y="770" font-size="9.3" text-anchor="end" transform="rotate(-45 142.43 770)">500</text>
<line x1="163.44" y1="757.5" x2="163.44" y2="762" stroke="#8e8e8e" stroke-width="1"/>
<text x="168.44" y="770" font-size="9.3" text-anchor="end" transform="rotate(-45 168.44 770)">1,000</text>
<line x1="189.45" y1="757.5" x2="189.45" y2="762" stroke="#8e8e8e" stroke-width="1"/>
<text x="194.45" y="770" font-size="9.3" text-anchor="end" transform="rotate(-45 194.45 770)">2,000</text>
<line x1="215.46" y1="757.5" x2="215.46" y2="762" stroke="#8e8e8e" stroke-width="1"/>
<text x="220.46" y="770" font-size="9.3" text-anchor="end" transform="rotate(-45 220.46 770)">3,000</text>
<line x1="241.47" y1="757.5" x2="241.47" y2="762" stroke="#8e8e8e" stroke-width="1"/>
<text x="246.47" y="770" font-size="9.3" text-anchor="end" transform="rotate(-45 246.47 770)">4,000</text>
<line x1="267.48" y1="757.5" x2="267.48" y2="762" stroke="#8e8e8e" stroke-width="1"/>
<text x="272.48" y="770" font-size="9.3" text-anchor="end" transform="rotate(-45 272.48 770)">5,000</text>
<line x1="293.49" y1="757.5" x2="293.49" y2="762" stroke="#8e8e8e" stroke-width="1"/>
<text x="298.49" y="770" font-size="9.3" text-anchor="end" transform="rotate(-45 298.49 770)">8,000</text>
<line x1="319.5" y1="757.5" x2="319.5" y2="762" stroke="#8e8e8e" stroke-width="1"/>
<text x="324.5" y="770" font-size="9.3" text-anchor="end" transform="rotate(-45 324.5 770)">10,000</text>
<text x="187.7" y="803.6" font-size="10" text-anchor="middle" textLength="142.2" lengthAdjust="spacingAndGlyphs">GWAS sample size (thousand)</text>
<text x="8.6" y="651.3" font-size="10" text-anchor="middle" textLength="27.7" lengthAdjust="spacingAndGlyphs" transform="rotate(-90 8.6 651.3)">Power</text>
<line x1="51.1" y1="747.4" x2="68" y2="747.4" stroke="#3a3a3a" stroke-width="0.95"/>
<line x1="77" y1="747.4" x2="92.4" y2="747.4" stroke="#3a3a3a" stroke-width="0.95"/>
<line x1="103.1" y1="747.4" x2="118.8" y2="747.4" stroke="#3a3a3a" stroke-width="0.95"/>
<line x1="130.74" y1="739.5" x2="130.74" y2="740.9" stroke="#7a7a7a" stroke-width="0.7"/>
<line x1="130.74" y1="743.6" x2="130.74" y2="745" stroke="#7a7a7a" stroke-width="0.7"/>
<rect x="129.49" y="740.9" width="2.5" height="2.7" fill="#D7302F" stroke="#3b3b3b" stroke-width="0.5"/>
<line x1="129.49" y1="742.3" x2="131.99" y2="742.3" stroke="#222" stroke-width="0.9"/>
<line x1="132.97" y1="741" x2="132.97" y2="742.5" stroke="#7a7a7a" stroke-width="0.7"/>
<line x1="132.97" y1="745" x2="132.97" y2="746.5" stroke="#7a7a7a" stroke-width="0.7"/>
<rect x="131.72" y="742.5" width="2.5" height="2.5" fill="#3A7DB6" stroke="#3b3b3b" stroke-width="0.5"/>
<line x1="131.72" y1="743.5" x2="134.22" y2="743.5" stroke="#222" stroke-width="0.9"/>
<line x1="135.2" y1="743" x2="135.2" y2="744" stroke="#7a7a7a" stroke-width="0.7"/>
<line x1="135.2" y1="745.6" x2="135.2" y2="746.5" stroke="#7a7a7a" stroke-width="0.7"/>
<rect x="133.95" y="744" width="2.5" height="1.6" fill="#4DB348" stroke="#3b3b3b" stroke-width="0.5"/>
<line x1="133.95" y1="744.8" x2="136.45" y2="744.8" stroke="#222" stroke-width="0.9"/>
<line x1="137.43" y1="745.5" x2="137.43" y2="746" stroke="#7a7a7a" stroke-width="0.7"/>
<line x1="137.43" y1="747" x2="137.43" y2="747.5" stroke="#7a7a7a" stroke-width="0.7"/>
<rect x="136.18" y="746" width="2.5" height="1" fill="#8D458A" stroke="#3b3b3b" stroke-width="0.5"/>
<line x1="136.18" y1="746.5" x2="138.68" y2="746.5" stroke="#222" stroke-width="0.9"/>
<line x1="139.66" y1="742.5" x2="139.66" y2="743" stroke="#7a7a7a" stroke-width="0.7"/>
<line x1="139.66" y1="744.4" x2="139.66" y2="745.5" stroke="#7a7a7a" stroke-width="0.7"/>
<rect x="138.41" y="743" width="2.5" height="1.4" fill="#F58C19" stroke="#3b3b3b" stroke-width="0.5"/>
<line x1="138.41" y1="743.7" x2="140.91" y2="743.7" stroke="#222" stroke-width="0.9"/>
<line x1="141.89" y1="732.3" x2="141.89" y2="734.8" stroke="#7a7a7a" stroke-width="0.7"/>
<line x1="141.89" y1="740" x2="141.89" y2="742" stroke="#7a7a7a" stroke-width="0.7"/>
<rect x="140.64" y="734.8" width="2.5" height="5.2" fill="#EE69AA" stroke="#3b3b3b" stroke-width="0.5"/>
<line x1="140.64" y1="736.8" x2="143.14" y2="736.8" stroke="#222" stroke-width="0.9"/>
<line x1="144.12" y1="741" x2="144.12" y2="742" stroke="#7a7a7a" stroke-width="0.7"/>
<line x1="144.12" y1="743.6" x2="144.12" y2="745.2" stroke="#7a7a7a" stroke-width="0.7"/>
<rect x="142.87" y="742" width="2.5" height="1.6" fill="#93602F" stroke="#3b3b3b" stroke-width="0.5"/>
<line x1="142.87" y1="742.8" x2="145.37" y2="742.8" stroke="#222" stroke-width="0.9"/>
<line x1="156.75" y1="730" x2="156.75" y2="732" stroke="#7a7a7a" stroke-width="0.7"/>
<line x1="156.75" y1="736.6" x2="156.75" y2="739" stroke="#7a7a7a" stroke-width="0.7"/>
<rect x="155.5" y="732" width="2.5" height="4.6" fill="#D7302F" stroke="#3b3b3b" stroke-width="0.5"/>
<line x1="155.5" y1="734.4" x2="158" y2="734.4" stroke="#222" stroke-width="0.9"/>
<line x1="158.98" y1="725.9" x2="158.98" y2="734.4" stroke="#7a7a7a" stroke-width="0.7"/>
<line x1="158.98" y1="739" x2="158.98" y2="742" stroke="#7a7a7a" stroke-width="0.7"/>
<rect x="157.73" y="734.4" width="2.5" height="4.6" fill="#3A7DB6" stroke="#3b3b3b" stroke-width="0.5"/>
<line x1="157.73" y1="737" x2="160.23" y2="737" stroke="#222" stroke-width="0.9"/>
<line x1="161.21" y1="726.3" x2="161.21" y2="735.6" stroke="#7a7a7a" stroke-width="0.7"/>
<line x1="161.21" y1="742" x2="161.21" y2="744" stroke="#7a7a7a" stroke-width="0.7"/>
<rect x="159.96" y="735.6" width="2.5" height="6.4" fill="#4DB348" stroke="#3b3b3b" stroke-width="0.5"/>
<line x1="159.96" y1="739.2" x2="162.46" y2="739.2" stroke="#222" stroke-width="0.9"/>
<line x1="163.44" y1="742.5" x2="163.44" y2="743" stroke="#7a7a7a" stroke-width="0.7"/>
<line x1="163.44" y1="744.4" x2="163.44" y2="745" stroke="#7a7a7a" stroke-width="0.7"/>
<rect x="162.19" y="743" width="2.5" height="1.4" fill="#8D458A" stroke="#3b3b3b" stroke-width="0.5"/>
<line x1="162.19" y1="743.7" x2="164.69" y2="743.7" stroke="#222" stroke-width="0.9"/>
<line x1="165.67" y1="736" x2="165.67" y2="736.9" stroke="#7a7a7a" stroke-width="0.7"/>
<line x1="165.67" y1="738.8" x2="165.67" y2="740" stroke="#7a7a7a" stroke-width="0.7"/>
<rect x="164.42" y="736.9" width="2.5" height="1.9" fill="#F58C19" stroke="#3b3b3b" stroke-width="0.5"/>
<line x1="164.42" y1="737.8" x2="166.92" y2="737.8" stroke="#222" stroke-width="0.9"/>
<line x1="167.9" y1="718.3" x2="167.9" y2="722.1" stroke="#7a7a7a" stroke-width="0.7"/>
<line x1="167.9" y1="731.5" x2="167.9" y2="735" stroke="#7a7a7a" stroke-width="0.7"/>
<rect x="166.65" y="722.1" width="2.5" height="9.4" fill="#EE69AA" stroke="#3b3b3b" stroke-width="0.5"/>
<line x1="166.65" y1="727.1" x2="169.15" y2="727.1" stroke="#222" stroke-width="0.9"/>
<line x1="170.13" y1="733" x2="170.13" y2="734.2" stroke="#7a7a7a" stroke-width="0.7"/>
<line x1="170.13" y1="737.6" x2="170.13" y2="739" stroke="#7a7a7a" stroke-width="0.7"/>
<rect x="168.88" y="734.2" width="2.5" height="3.4" fill="#93602F" stroke="#3b3b3b" stroke-width="0.5"/>
<line x1="168.88" y1="735.9" x2="171.38" y2="735.9" stroke="#222" stroke-width="0.9"/>
<line x1="182.76" y1="704.1" x2="182.76" y2="707.1" stroke="#7a7a7a" stroke-width="0.7"/>
<line x1="182.76" y1="713.8" x2="182.76" y2="716" stroke="#7a7a7a" stroke-width="0.7"/>
<rect x="181.51" y="707.1" width="2.5" height="6.7" fill="#D7302F" stroke="#3b3b3b" stroke-width="0.5"/>
<line x1="181.51" y1="709.8" x2="184.01" y2="709.8" stroke="#222" stroke-width="0.9"/>
<line x1="184.99" y1="692.9" x2="184.99" y2="711.1" stroke="#7a7a7a" stroke-width="0.7"/>
<line x1="184.99" y1="728.4" x2="184.99" y2="732" stroke="#7a7a7a" stroke-width="0.7"/>
<rect x="183.74" y="711.1" width="2.5" height="17.3" fill="#3A7DB6" stroke="#3b3b3b" stroke-width="0.5"/>
<line x1="183.74" y1="723.5" x2="186.24" y2="723.5" stroke="#222" stroke-width="0.9"/>
<line x1="187.22" y1="693.7" x2="187.22" y2="707.8" stroke="#7a7a7a" stroke-width="0.7"/>
<line x1="187.22" y1="728.7" x2="187.22" y2="738.3" stroke="#7a7a7a" stroke-width="0.7"/>
<rect x="185.97" y="707.8" width="2.5" height="20.9" fill="#4DB348" stroke="#3b3b3b" stroke-width="0.5"/>
<line x1="185.97" y1="720" x2="188.47" y2="720" stroke="#222" stroke-width="0.9"/>
<line x1="189.45" y1="734" x2="189.45" y2="734.3" stroke="#7a7a7a" stroke-width="0.7"/>
<line x1="189.45" y1="735.5" x2="189.45" y2="736" stroke="#7a7a7a" stroke-width="0.7"/>
<rect x="188.2" y="734.3" width="2.5" height="1.2" fill="#8D458A" stroke="#3b3b3b" stroke-width="0.5"/>
<line x1="188.2" y1="734.9" x2="190.7" y2="734.9" stroke="#222" stroke-width="0.9"/>
<line x1="191.68" y1="716" x2="191.68" y2="718.2" stroke="#7a7a7a" stroke-width="0.7"/>
<line x1="191.68" y1="723.5" x2="191.68" y2="726.4" stroke="#7a7a7a" stroke-width="0.7"/>
<rect x="190.43" y="718.2" width="2.5" height="5.3" fill="#F58C19" stroke="#3b3b3b" stroke-width="0.5"/>
<line x1="190.43" y1="720.9" x2="192.93" y2="720.9" stroke="#222" stroke-width="0.9"/>
<line x1="193.91" y1="695.9" x2="193.91" y2="700.4" stroke="#7a7a7a" stroke-width="0.7"/>
<line x1="193.91" y1="713" x2="193.91" y2="718" stroke="#7a7a7a" stroke-width="0.7"/>
<rect x="192.66" y="700.4" width="2.5" height="12.6" fill="#EE69AA" stroke="#3b3b3b" stroke-width="0.5"/>
<line x1="192.66" y1="705.6" x2="195.16" y2="705.6" stroke="#222" stroke-width="0.9"/>
<line x1="196.14" y1="708" x2="196.14" y2="711.1" stroke="#7a7a7a" stroke-width="0.7"/>
<line x1="196.14" y1="720.5" x2="196.14" y2="724.2" stroke="#7a7a7a" stroke-width="0.7"/>
<rect x="194.89" y="711.1" width="2.5" height="9.4" fill="#93602F" stroke="#3b3b3b" stroke-width="0.5"/>
<line x1="194.89" y1="716.5" x2="197.39" y2="716.5" stroke="#222" stroke-width="0.9"/>
<line x1="208.77" y1="680.3" x2="208.77" y2="684" stroke="#7a7a7a" stroke-width="0.7"/>
<line x1="208.77" y1="692.5" x2="208.77" y2="695" stroke="#7a7a7a" stroke-width="0.7"/>
<rect x="207.52" y="684" width="2.5" height="8.5" fill="#D7302F" stroke="#3b3b3b" stroke-width="0.5"/>
<line x1="207.52" y1="688.2" x2="210.02" y2="688.2" stroke="#222" stroke-width="0.9"/>
<line x1="211" y1="663.9" x2="211" y2="690" stroke="#7a7a7a" stroke-width="0.7"/>
<line x1="211" y1="714.1" x2="211" y2="718" stroke="#7a7a7a" stroke-width="0.7"/>
<rect x="209.75" y="690" width="2.5" height="24.1" fill="#3A7DB6" stroke="#3b3b3b" stroke-width="0.5"/>
<line x1="209.75" y1="707.8" x2="212.25" y2="707.8" stroke="#222" stroke-width="0.9"/>
<line x1="213.23" y1="667.3" x2="213.23" y2="683.7" stroke="#7a7a7a" stroke-width="0.7"/>
<line x1="213.23" y1="714.1" x2="213.23" y2="726.9" stroke="#7a7a7a" stroke-width="0.7"/>
<rect x="211.98" y="683.7" width="2.5" height="30.4" fill="#4DB348" stroke="#3b3b3b" stroke-width="0.5"/>
<line x1="211.98" y1="698.6" x2="214.48" y2="698.6" stroke="#222" stroke-width="0.9"/>
<line x1="215.46" y1="721.5" x2="215.46" y2="722" stroke="#7a7a7a" stroke-width="0.7"/>
<line x1="215.46" y1="724.2" x2="215.46" y2="725" stroke="#7a7a7a" stroke-width="0.7"/>
<rect x="214.21" y="722" width="2.5" height="2.2" fill="#8D458A" stroke="#3b3b3b" stroke-width="0.5"/>
<line x1="214.21" y1="723.1" x2="216.71" y2="723.1" stroke="#222" stroke-width="0.9"/>
<line x1="217.69" y1="695" x2="217.69" y2="697.4" stroke="#7a7a7a" stroke-width="0.7"/>
<line x1="217.69" y1="707.5" x2="217.69" y2="715.3" stroke="#7a7a7a" stroke-width="0.7"/>
<rect x="216.44" y="697.4" width="2.5" height="10.1" fill="#F58C19" stroke="#3b3b3b" stroke-width="0.5"/>
<line x1="216.44" y1="698.9" x2="218.94" y2="698.9" stroke="#222" stroke-width="0.9"/>
<line x1="219.92" y1="676.6" x2="219.92" y2="681.3" stroke="#7a7a7a" stroke-width="0.7"/>
<line x1="219.92" y1="695.2" x2="219.92" y2="700" stroke="#7a7a7a" stroke-width="0.7"/>
<rect x="218.67" y="681.3" width="2.5" height="13.9" fill="#EE69AA" stroke="#3b3b3b" stroke-width="0.5"/>
<line x1="218.67" y1="686.7" x2="221.17" y2="686.7" stroke="#222" stroke-width="0.9"/>
<line x1="222.15" y1="684" x2="222.15" y2="688.8" stroke="#7a7a7a" stroke-width="0.7"/>
<line x1="222.15" y1="701.9" x2="222.15" y2="712.3" stroke="#7a7a7a" stroke-width="0.7"/>
<rect x="220.9" y="688.8" width="2.5" height="13.1" fill="#93602F" stroke="#3b3b3b" stroke-width="0.5"/>
<line x1="220.9" y1="696.2" x2="223.4" y2="696.2" stroke="#222" stroke-width="0.9"/>
<line x1="234.78" y1="660.9" x2="234.78" y2="665.4" stroke="#7a7a7a" stroke-width="0.7"/>
<line x1="234.78" y1="675.1" x2="234.78" y2="680" stroke="#7a7a7a" stroke-width="0.7"/>
<rect x="233.53" y="665.4" width="2.5" height="9.7" fill="#D7302F" stroke="#3b3b3b" stroke-width="0.5"/>
<line x1="233.53" y1="670.3" x2="236.03" y2="670.3" stroke="#222" stroke-width="0.9"/>
<line x1="237.01" y1="642.3" x2="237.01" y2="672.1" stroke="#7a7a7a" stroke-width="0.7"/>
<line x1="237.01" y1="699.6" x2="237.01" y2="705" stroke="#7a7a7a" stroke-width="0.7"/>
<rect x="235.76" y="672.1" width="2.5" height="27.5" fill="#3A7DB6" stroke="#3b3b3b" stroke-width="0.5"/>
<line x1="235.76" y1="692.9" x2="238.26" y2="692.9" stroke="#222" stroke-width="0.9"/>
<line x1="239.24" y1="612" x2="239.24" y2="664.4" stroke="#7a7a7a" stroke-width="0.7"/>
<line x1="239.24" y1="701.1" x2="239.24" y2="715.3" stroke="#7a7a7a" stroke-width="0.7"/>
<rect x="237.99" y="664.4" width="2.5" height="36.7" fill="#4DB348" stroke="#3b3b3b" stroke-width="0.5"/>
<line x1="237.99" y1="681" x2="240.49" y2="681" stroke="#222" stroke-width="0.9"/>
<line x1="241.47" y1="707" x2="241.47" y2="708.1" stroke="#7a7a7a" stroke-width="0.7"/>
<line x1="241.47" y1="712" x2="241.47" y2="713" stroke="#7a7a7a" stroke-width="0.7"/>
<rect x="240.22" y="708.1" width="2.5" height="3.9" fill="#8D458A" stroke="#3b3b3b" stroke-width="0.5"/>
<line x1="240.22" y1="710" x2="242.72" y2="710" stroke="#222" stroke-width="0.9"/>
<line x1="243.7" y1="676" x2="243.7" y2="679.5" stroke="#7a7a7a" stroke-width="0.7"/>
<line x1="243.7" y1="692.9" x2="243.7" y2="704.5" stroke="#7a7a7a" stroke-width="0.7"/>
<rect x="242.45" y="679.5" width="2.5" height="13.4" fill="#F58C19" stroke="#3b3b3b" stroke-width="0.5"/>
<line x1="242.45" y1="681" x2="244.95" y2="681" stroke="#222" stroke-width="0.9"/>
<line x1="245.93" y1="661.4" x2="245.93" y2="666.4" stroke="#7a7a7a" stroke-width="0.7"/>
<line x1="245.93" y1="679.5" x2="245.93" y2="684" stroke="#7a7a7a" stroke-width="0.7"/>
<rect x="244.68" y="666.4" width="2.5" height="13.1" fill="#EE69AA" stroke="#3b3b3b" stroke-width="0.5"/>
<line x1="244.68" y1="671.4" x2="247.18" y2="671.4" stroke="#222" stroke-width="0.9"/>
<line x1="248.16" y1="668" x2="248.16" y2="672.8" stroke="#7a7a7a" stroke-width="0.7"/>
<line x1="248.16" y1="685.5" x2="248.16" y2="700.4" stroke="#7a7a7a" stroke-width="0.7"/>
<rect x="246.91" y="672.8" width="2.5" height="12.7" fill="#93602F" stroke="#3b3b3b" stroke-width="0.5"/>
<line x1="246.91" y1="679.2" x2="249.41" y2="679.2" stroke="#222" stroke-width="0.9"/>
<line x1="260.79" y1="646.4" x2="260.79" y2="650.4" stroke="#7a7a7a" stroke-width="0.7"/>
<line x1="260.79" y1="660.9" x2="260.79" y2="665" stroke="#7a7a7a" stroke-width="0.7"/>
<rect x="259.54" y="650.4" width="2.5" height="10.5" fill="#D7302F" stroke="#3b3b3b" stroke-width="0.5"/>
<line x1="259.54" y1="655.4" x2="262.04" y2="655.4" stroke="#222" stroke-width="0.9"/>
<line x1="263.02" y1="627.6" x2="263.02" y2="658.4" stroke="#7a7a7a" stroke-width="0.7"/>
<line x1="263.02" y1="687.2" x2="263.02" y2="694" stroke="#7a7a7a" stroke-width="0.7"/>
<rect x="261.77" y="658.4" width="2.5" height="28.8" fill="#3A7DB6" stroke="#3b3b3b" stroke-width="0.5"/>
<line x1="261.77" y1="679.2" x2="264.27" y2="679.2" stroke="#222" stroke-width="0.9"/>
<line x1="265.25" y1="597.8" x2="265.25" y2="649.4" stroke="#7a7a7a" stroke-width="0.7"/>
<line x1="265.25" y1="688.8" x2="265.25" y2="704" stroke="#7a7a7a" stroke-width="0.7"/>
<rect x="264" y="649.4" width="2.5" height="39.4" fill="#4DB348" stroke="#3b3b3b" stroke-width="0.5"/>
<line x1="264" y1="666.3" x2="266.5" y2="666.3" stroke="#222" stroke-width="0.9"/>
<line x1="267.48" y1="695" x2="267.48" y2="696.1" stroke="#7a7a7a" stroke-width="0.7"/>
<line x1="267.48" y1="700.7" x2="267.48" y2="702" stroke="#7a7a7a" stroke-width="0.7"/>
<rect x="266.23" y="696.1" width="2.5" height="4.6" fill="#8D458A" stroke="#3b3b3b" stroke-width="0.5"/>
<line x1="266.23" y1="698.4" x2="268.73" y2="698.4" stroke="#222" stroke-width="0.9"/>
<line x1="269.71" y1="662" x2="269.71" y2="665.7" stroke="#7a7a7a" stroke-width="0.7"/>
<line x1="269.71" y1="680.2" x2="269.71" y2="695.1" stroke="#7a7a7a" stroke-width="0.7"/>
<rect x="268.46" y="665.7" width="2.5" height="14.5" fill="#F58C19" stroke="#3b3b3b" stroke-width="0.5"/>
<line x1="268.46" y1="667.3" x2="270.96" y2="667.3" stroke="#222" stroke-width="0.9"/>
<line x1="271.94" y1="648.4" x2="271.94" y2="653" stroke="#7a7a7a" stroke-width="0.7"/>
<line x1="271.94" y1="666.3" x2="271.94" y2="670" stroke="#7a7a7a" stroke-width="0.7"/>
<rect x="270.69" y="653" width="2.5" height="13.3" fill="#EE69AA" stroke="#3b3b3b" stroke-width="0.5"/>
<line x1="270.69" y1="657.4" x2="273.19" y2="657.4" stroke="#222" stroke-width="0.9"/>
<line x1="274.17" y1="656" x2="274.17" y2="660.3" stroke="#7a7a7a" stroke-width="0.7"/>
<line x1="274.17" y1="671.7" x2="274.17" y2="676" stroke="#7a7a7a" stroke-width="0.7"/>
<rect x="272.92" y="660.3" width="2.5" height="11.4" fill="#93602F" stroke="#3b3b3b" stroke-width="0.5"/>
<line x1="272.92" y1="666.3" x2="275.42" y2="666.3" stroke="#222" stroke-width="0.9"/>
<line x1="286.8" y1="613.6" x2="286.8" y2="618" stroke="#7a7a7a" stroke-width="0.7"/>
<line x1="286.8" y1="629.5" x2="286.8" y2="634" stroke="#7a7a7a" stroke-width="0.7"/>
<rect x="285.55" y="618" width="2.5" height="11.5" fill="#D7302F" stroke="#3b3b3b" stroke-width="0.5"/>
<line x1="285.55" y1="623.6" x2="288.05" y2="623.6" stroke="#222" stroke-width="0.9"/>
<line x1="289.03" y1="595.8" x2="289.03" y2="627.2" stroke="#7a7a7a" stroke-width="0.7"/>
<line x1="289.03" y1="657.4" x2="289.03" y2="665" stroke="#7a7a7a" stroke-width="0.7"/>
<rect x="287.78" y="627.2" width="2.5" height="30.2" fill="#3A7DB6" stroke="#3b3b3b" stroke-width="0.5"/>
<line x1="287.78" y1="646.4" x2="290.28" y2="646.4" stroke="#222" stroke-width="0.9"/>
<line x1="291.26" y1="570.1" x2="291.26" y2="617.6" stroke="#7a7a7a" stroke-width="0.7"/>
<line x1="291.26" y1="657.8" x2="291.26" y2="675.2" stroke="#7a7a7a" stroke-width="0.7"/>
<rect x="290.01" y="617.6" width="2.5" height="40.2" fill="#4DB348" stroke="#3b3b3b" stroke-width="0.5"/>
<line x1="290.01" y1="633.5" x2="292.51" y2="633.5" stroke="#222" stroke-width="0.9"/>
<line x1="293.49" y1="665" x2="293.49" y2="666.3" stroke="#7a7a7a" stroke-width="0.7"/>
<line x1="293.49" y1="671.7" x2="293.49" y2="673" stroke="#7a7a7a" stroke-width="0.7"/>
<rect x="292.24" y="666.3" width="2.5" height="5.4" fill="#8D458A" stroke="#3b3b3b" stroke-width="0.5"/>
<line x1="292.24" y1="669" x2="294.74" y2="669" stroke="#222" stroke-width="0.9"/>
<line x1="295.72" y1="630" x2="295.72" y2="634.5" stroke="#7a7a7a" stroke-width="0.7"/>
<line x1="295.72" y1="651" x2="295.72" y2="665.3" stroke="#7a7a7a" stroke-width="0.7"/>
<rect x="294.47" y="634.5" width="2.5" height="16.5" fill="#F58C19" stroke="#3b3b3b" stroke-width="0.5"/>
<line x1="294.47" y1="635.1" x2="296.97" y2="635.1" stroke="#222" stroke-width="0.9"/>
<line x1="297.95" y1="620.6" x2="297.95" y2="624.6" stroke="#7a7a7a" stroke-width="0.7"/>
<line x1="297.95" y1="636.5" x2="297.95" y2="640" stroke="#7a7a7a" stroke-width="0.7"/>
<rect x="296.7" y="624.6" width="2.5" height="11.9" fill="#EE69AA" stroke="#3b3b3b" stroke-width="0.5"/>
<line x1="296.7" y1="629.5" x2="299.2" y2="629.5" stroke="#222" stroke-width="0.9"/>
<line x1="300.18" y1="620.6" x2="300.18" y2="630.5" stroke="#7a7a7a" stroke-width="0.7"/>
<line x1="300.18" y1="639.9" x2="300.18" y2="645" stroke="#7a7a7a" stroke-width="0.7"/>
<rect x="298.93" y="630.5" width="2.5" height="9.4" fill="#93602F" stroke="#3b3b3b" stroke-width="0.5"/>
<line x1="298.93" y1="634.5" x2="301.43" y2="634.5" stroke="#222" stroke-width="0.9"/>
<line x1="312.81" y1="599.7" x2="312.81" y2="604.1" stroke="#7a7a7a" stroke-width="0.7"/>
<line x1="312.81" y1="614.6" x2="312.81" y2="620" stroke="#7a7a7a" stroke-width="0.7"/>
<rect x="311.56" y="604.1" width="2.5" height="10.5" fill="#D7302F" stroke="#3b3b3b" stroke-width="0.5"/>
<line x1="311.56" y1="608.7" x2="314.06" y2="608.7" stroke="#222" stroke-width="0.9"/>
<line x1="315.04" y1="582.1" x2="315.04" y2="612.7" stroke="#7a7a7a" stroke-width="0.7"/>
<line x1="315.04" y1="641.9" x2="315.04" y2="650" stroke="#7a7a7a" stroke-width="0.7"/>
<rect x="313.79" y="612.7" width="2.5" height="29.2" fill="#3A7DB6" stroke="#3b3b3b" stroke-width="0.5"/>
<line x1="313.79" y1="631.1" x2="316.29" y2="631.1" stroke="#222" stroke-width="0.9"/>
<line x1="317.27" y1="558.4" x2="317.27" y2="603.3" stroke="#7a7a7a" stroke-width="0.7"/>
<line x1="317.27" y1="641.9" x2="317.27" y2="660.3" stroke="#7a7a7a" stroke-width="0.7"/>
<rect x="316.02" y="603.3" width="2.5" height="38.6" fill="#4DB348" stroke="#3b3b3b" stroke-width="0.5"/>
<line x1="316.02" y1="618" x2="318.52" y2="618" stroke="#222" stroke-width="0.9"/>
<line x1="319.5" y1="649" x2="319.5" y2="650.4" stroke="#7a7a7a" stroke-width="0.7"/>
<line x1="319.5" y1="656.4" x2="319.5" y2="658" stroke="#7a7a7a" stroke-width="0.7"/>
<rect x="318.25" y="650.4" width="2.5" height="6" fill="#8D458A" stroke="#3b3b3b" stroke-width="0.5"/>
<line x1="318.25" y1="653.4" x2="320.75" y2="653.4" stroke="#222" stroke-width="0.9"/>
<line x1="321.73" y1="615" x2="321.73" y2="619.2" stroke="#7a7a7a" stroke-width="0.7"/>
<line x1="321.73" y1="636.5" x2="321.73" y2="647.4" stroke="#7a7a7a" stroke-width="0.7"/>
<rect x="320.48" y="619.2" width="2.5" height="17.3" fill="#F58C19" stroke="#3b3b3b" stroke-width="0.5"/>
<line x1="320.48" y1="619.6" x2="322.98" y2="619.6" stroke="#222" stroke-width="0.9"/>
<line x1="323.96" y1="607.7" x2="323.96" y2="611.3" stroke="#7a7a7a" stroke-width="0.7"/>
<line x1="323.96" y1="621.6" x2="323.96" y2="625" stroke="#7a7a7a" stroke-width="0.7"/>
<rect x="322.71" y="611.3" width="2.5" height="10.3" fill="#EE69AA" stroke="#3b3b3b" stroke-width="0.5"/>
<line x1="322.71" y1="615.6" x2="325.21" y2="615.6" stroke="#222" stroke-width="0.9"/>
<line x1="326.19" y1="606.7" x2="326.19" y2="617.2" stroke="#7a7a7a" stroke-width="0.7"/>
<line x1="326.19" y1="624.6" x2="326.19" y2="628" stroke="#7a7a7a" stroke-width="0.7"/>
<rect x="324.94" y="617.2" width="2.5" height="7.4" fill="#93602F" stroke="#3b3b3b" stroke-width="0.5"/>
<line x1="324.94" y1="619.6" x2="327.44" y2="619.6" stroke="#222" stroke-width="0.9"/>
<circle cx="57.2" cy="747.4" r="1.6" fill="#1a1a1a"/>
<circle cx="82.8" cy="747.4" r="1.6" fill="#1a1a1a"/>
<circle cx="84.2" cy="747.6" r="1.6" fill="#1a1a1a"/>
<circle cx="85.4" cy="747.4" r="1.6" fill="#1a1a1a"/>
<circle cx="92.1" cy="747.4" r="1.6" fill="#1a1a1a"/>
<circle cx="108.7" cy="746" r="1.6" fill="#1a1a1a"/>
<circle cx="111.5" cy="747.4" r="1.6" fill="#1a1a1a"/>
<circle cx="117.9" cy="747.2" r="1.6" fill="#1a1a1a"/>
<circle cx="135" cy="731.5" r="1.6" fill="#1a1a1a"/>
<circle cx="135" cy="739.2" r="1.6" fill="#1a1a1a"/>
<circle cx="144.3" cy="736.4" r="1.6" fill="#1a1a1a"/>
<circle cx="132.6" cy="742.6" r="1.6" fill="#1a1a1a"/>
<circle cx="136.4" cy="744.6" r="1.6" fill="#1a1a1a"/>
<circle cx="137.8" cy="745.6" r="1.6" fill="#1a1a1a"/>
<circle cx="161.1" cy="702.6" r="1.6" fill="#1a1a1a"/>
<circle cx="156.5" cy="723" r="1.6" fill="#1a1a1a"/>
<circle cx="158.7" cy="725.9" r="1.6" fill="#1a1a1a"/>
<circle cx="163.4" cy="735.6" r="1.6" fill="#1a1a1a"/>
<circle cx="170.4" cy="724.1" r="1.6" fill="#1a1a1a"/>
<circle cx="182.7" cy="688.9" r="1.6" fill="#1a1a1a"/>
<circle cx="182.7" cy="725.4" r="1.6" fill="#1a1a1a"/>
<circle cx="187.1" cy="659" r="1.6" fill="#1a1a1a"/>
<circle cx="189.4" cy="709.3" r="1.6" fill="#1a1a1a"/>
<circle cx="208.4" cy="663.5" r="1.6" fill="#1a1a1a"/>
<circle cx="208.4" cy="708.1" r="1.6" fill="#1a1a1a"/>
<circle cx="213.2" cy="631.2" r="1.6" fill="#1a1a1a"/>
<circle cx="215.4" cy="685.5" r="1.6" fill="#1a1a1a"/>
<circle cx="215" cy="733.1" r="1.6" fill="#1a1a1a"/>
<circle cx="234.5" cy="643.8" r="1.6" fill="#1a1a1a"/>
<circle cx="234.5" cy="692.6" r="1.6" fill="#1a1a1a"/>
<circle cx="241.2" cy="667.3" r="1.6" fill="#1a1a1a"/>
<circle cx="241.2" cy="723" r="1.6" fill="#1a1a1a"/>
<circle cx="260.5" cy="629.5" r="1.6" fill="#1a1a1a"/>
<circle cx="260.5" cy="679.6" r="1.6" fill="#1a1a1a"/>
<circle cx="267.5" cy="652" r="1.6" fill="#1a1a1a"/>
<circle cx="267.5" cy="713.4" r="1.6" fill="#1a1a1a"/>
<circle cx="273.8" cy="689.5" r="1.6" fill="#1a1a1a"/>
<circle cx="286.8" cy="599.7" r="1.6" fill="#1a1a1a"/>
<circle cx="286.8" cy="649" r="1.6" fill="#1a1a1a"/>
<circle cx="293.7" cy="620.6" r="1.6" fill="#1a1a1a"/>
<circle cx="293.3" cy="687.2" r="1.6" fill="#1a1a1a"/>
<circle cx="299.7" cy="662.3" r="1.6" fill="#1a1a1a"/>
<circle cx="312.6" cy="586.8" r="1.6" fill="#1a1a1a"/>
<circle cx="312.6" cy="633.9" r="1.6" fill="#1a1a1a"/>
<circle cx="319.5" cy="606.1" r="1.6" fill="#1a1a1a"/>
<circle cx="319.1" cy="672.9" r="1.6" fill="#1a1a1a"/>
<circle cx="325.9" cy="647.4" r="1.6" fill="#1a1a1a"/>
<text x="352.6" y="543.4" font-size="15.5" font-weight="bold" fill="#000" stroke="#000" stroke-width="0.45">f</text>
<line x1="397.5" y1="544.2" x2="397.5" y2="758" stroke="#888888" stroke-width="1"/>
<line x1="393.2" y1="747.7" x2="397.5" y2="747.7" stroke="#8e8e8e" stroke-width="1"/>
<text x="388.6" y="751.05" font-size="9.3" text-anchor="end">0</text>
<line x1="393.2" y1="698.2" x2="397.5" y2="698.2" stroke="#8e8e8e" stroke-width="1"/>
<text x="388.6" y="701.55" font-size="9.3" text-anchor="end">0.25</text>
<line x1="393.2" y1="648.5" x2="397.5" y2="648.5" stroke="#8e8e8e" stroke-width="1"/>
<text x="388.6" y="651.85" font-size="9.3" text-anchor="end">0.50</text>
<line x1="393.2" y1="599" x2="397.5" y2="599" stroke="#8e8e8e" stroke-width="1"/>
<text x="388.6" y="602.35" font-size="9.3" text-anchor="end">0.75</text>
<line x1="393.2" y1="549.4" x2="397.5" y2="549.4" stroke="#8e8e8e" stroke-width="1"/>
<text x="388.6" y="552.75" font-size="9.3" text-anchor="end">1.00</text>
<line x1="397" y1="757.5" x2="680.6" y2="757.5" stroke="#888888" stroke-width="1"/>
<line x1="412.5" y1="757.5" x2="412.5" y2="762" stroke="#8e8e8e" stroke-width="1"/>
<text x="417.5" y="770" font-size="9.3" text-anchor="end" transform="rotate(-45 417.5 770)">10</text>
<line x1="438.11" y1="757.5" x2="438.11" y2="762" stroke="#8e8e8e" stroke-width="1"/>
<text x="443.11" y="770" font-size="9.3" text-anchor="end" transform="rotate(-45 443.11 770)">50</text>
<line x1="463.72" y1="757.5" x2="463.72" y2="762" stroke="#8e8e8e" stroke-width="1"/>
<text x="468.72" y="770" font-size="9.3" text-anchor="end" transform="rotate(-45 468.72 770)">100</text>
<line x1="489.33" y1="757.5" x2="489.33" y2="762" stroke="#8e8e8e" stroke-width="1"/>
<text x="494.33" y="770" font-size="9.3" text-anchor="end" transform="rotate(-45 494.33 770)">500</text>
<line x1="514.94" y1="757.5" x2="514.94" y2="762" stroke="#8e8e8e" stroke-width="1"/>
<text x="519.94" y="770" font-size="9.3" text-anchor="end" transform="rotate(-45 519.94 770)">1,000</text>
<line x1="540.55" y1="757.5" x2="540.55" y2="762" stroke="#8e8e8e" stroke-width="1"/>
<text x="545.55" y="770" font-size="9.3" text-anchor="end" transform="rotate(-45 545.55 770)">2,000</text>
<line x1="566.16" y1="757.5" x2="566.16" y2="762" stroke="#8e8e8e" stroke-width="1"/>
<text x="571.16" y="770" font-size="9.3" text-anchor="end" transform="rotate(-45 571.16 770)">3,000</text>
<line x1="591.77" y1="757.5" x2="591.77" y2="762" stroke="#8e8e8e" stroke-width="1"/>
<text x="596.77" y="770" font-size="9.3" text-anchor="end" transform="rotate(-45 596.77 770)">4,000</text>
<line x1="617.38" y1="757.5" x2="617.38" y2="762" stroke="#8e8e8e" stroke-width="1"/>
<text x="622.38" y="770" font-size="9.3" text-anchor="end" transform="rotate(-45 622.38 770)">5,000</text>
<line x1="642.99" y1="757.5" x2="642.99" y2="762" stroke="#8e8e8e" stroke-width="1"/>
<text x="647.99" y="770" font-size="9.3" text-anchor="end" transform="rotate(-45 647.99 770)">8,000</text>
<line x1="668.6" y1="757.5" x2="668.6" y2="762" stroke="#8e8e8e" stroke-width="1"/>
<text x="673.6" y="770" font-size="9.3" text-anchor="end" transform="rotate(-45 673.6 770)">10,000</text>
<text x="540.8" y="803.6" font-size="10" text-anchor="middle" textLength="141.7" lengthAdjust="spacingAndGlyphs">GWAS sample size (thousand)</text>
<text x="361.4" y="651.1" font-size="10" text-anchor="middle" textLength="66.2" lengthAdjust="spacingAndGlyphs" transform="rotate(-90 361.4 651.1)">Expected PHE</text>
<line x1="405.81" y1="730.2" x2="405.81" y2="739" stroke="#7a7a7a" stroke-width="0.7"/>
<line x1="405.81" y1="747.2" x2="405.81" y2="747.5" stroke="#7a7a7a" stroke-width="0.7"/>
<rect x="404.56" y="739" width="2.5" height="8.2" fill="#D7302F" stroke="#3b3b3b" stroke-width="0.5"/>
<line x1="404.56" y1="743.1" x2="407.06" y2="743.1" stroke="#222" stroke-width="0.9"/>
<line x1="408.04" y1="708" x2="408.04" y2="710.1" stroke="#7a7a7a" stroke-width="0.7"/>
<rect x="406.79" y="710.1" width="2.5" height="37.4" fill="#3A7DB6" stroke="#3b3b3b" stroke-width="0.5"/>
<line x1="406.79" y1="729" x2="409.29" y2="729" stroke="#222" stroke-width="0.9"/>
<rect x="409.02" y="747.2" width="2.5" height="0.6" fill="#4DB348" stroke="#3b3b3b" stroke-width="0.5"/>
<line x1="409.02" y1="747.5" x2="411.52" y2="747.5" stroke="#222" stroke-width="0.9"/>
<rect x="411.25" y="747.2" width="2.5" height="0.6" fill="#8D458A" stroke="#3b3b3b" stroke-width="0.5"/>
<line x1="411.25" y1="747.5" x2="413.75" y2="747.5" stroke="#222" stroke-width="0.9"/>
<line x1="414.73" y1="722.6" x2="414.73" y2="735.1" stroke="#7a7a7a" stroke-width="0.7"/>
<rect x="413.48" y="735.1" width="2.5" height="12.4" fill="#F58C19" stroke="#3b3b3b" stroke-width="0.5"/>
<line x1="413.48" y1="747.3" x2="415.98" y2="747.3" stroke="#222" stroke-width="0.9"/>
<rect x="415.71" y="747" width="2.5" height="0.6" fill="#EE69AA" stroke="#3b3b3b" stroke-width="0.5"/>
<line x1="415.71" y1="747.3" x2="418.21" y2="747.3" stroke="#222" stroke-width="0.9"/>
<rect x="417.94" y="747" width="2.5" height="0.6" fill="#93602F" stroke="#3b3b3b" stroke-width="0.5"/>
<line x1="417.94" y1="747.3" x2="420.44" y2="747.3" stroke="#222" stroke-width="0.9"/>
<line x1="431.42" y1="677.8" x2="431.42" y2="695.2" stroke="#7a7a7a" stroke-width="0.7"/>
<line x1="431.42" y1="723.4" x2="431.42" y2="740.7" stroke="#7a7a7a" stroke-width="0.7"/>
<rect x="430.17" y="695.2" width="2.5" height="28.2" fill="#D7302F" stroke="#3b3b3b" stroke-width="0.5"/>
<line x1="430.17" y1="713.3" x2="432.67" y2="713.3" stroke="#222" stroke-width="0.9"/>
<line x1="433.65" y1="680.3" x2="433.65" y2="699.9" stroke="#7a7a7a" stroke-width="0.7"/>
<line x1="433.65" y1="715" x2="433.65" y2="722" stroke="#7a7a7a" stroke-width="0.7"/>
<rect x="432.4" y="699.9" width="2.5" height="15.1" fill="#3A7DB6" stroke="#3b3b3b" stroke-width="0.5"/>
<line x1="432.4" y1="712.1" x2="434.9" y2="712.1" stroke="#222" stroke-width="0.9"/>
<line x1="435.88" y1="726.1" x2="435.88" y2="738.2" stroke="#7a7a7a" stroke-width="0.7"/>
<line x1="435.88" y1="747.5" x2="435.88" y2="747.6" stroke="#7a7a7a" stroke-width="0.7"/>
<rect x="434.63" y="738.2" width="2.5" height="9.3" fill="#4DB348" stroke="#3b3b3b" stroke-width="0.5"/>
<line x1="434.63" y1="745" x2="437.13" y2="745" stroke="#222" stroke-width="0.9"/>
<rect x="436.86" y="746.6" width="2.5" height="0.9" fill="#8D458A" stroke="#3b3b3b" stroke-width="0.5"/>
<line x1="436.86" y1="747" x2="439.36" y2="747" stroke="#222" stroke-width="0.9"/>
<line x1="440.34" y1="694.1" x2="440.34" y2="719.5" stroke="#7a7a7a" stroke-width="0.7"/>
<line x1="440.34" y1="745.6" x2="440.34" y2="747.5" stroke="#7a7a7a" stroke-width="0.7"/>
<rect x="439.09" y="719.5" width="2.5" height="26.1" fill="#F58C19" stroke="#3b3b3b" stroke-width="0.5"/>
<line x1="439.09" y1="744" x2="441.59" y2="744" stroke="#222" stroke-width="0.9"/>
<line x1="442.57" y1="718" x2="442.57" y2="722.6" stroke="#7a7a7a" stroke-width="0.7"/>
<line x1="442.57" y1="732" x2="442.57" y2="737" stroke="#7a7a7a" stroke-width="0.7"/>
<rect x="441.32" y="722.6" width="2.5" height="9.4" fill="#EE69AA" stroke="#3b3b3b" stroke-width="0.5"/>
<line x1="441.32" y1="725.3" x2="443.82" y2="725.3" stroke="#222" stroke-width="0.9"/>
<line x1="444.8" y1="722" x2="444.8" y2="727.3" stroke="#7a7a7a" stroke-width="0.7"/>
<line x1="444.8" y1="737.2" x2="444.8" y2="747.5" stroke="#7a7a7a" stroke-width="0.7"/>
<rect x="443.55" y="727.3" width="2.5" height="9.9" fill="#93602F" stroke="#3b3b3b" stroke-width="0.5"/>
<line x1="443.55" y1="731.4" x2="446.05" y2="731.4" stroke="#222" stroke-width="0.9"/>
<line x1="457.03" y1="672.2" x2="457.03" y2="680.7" stroke="#7a7a7a" stroke-width="0.7"/>
<line x1="457.03" y1="713.3" x2="457.03" y2="730.2" stroke="#7a7a7a" stroke-width="0.7"/>
<rect x="455.78" y="680.7" width="2.5" height="32.6" fill="#D7302F" stroke="#3b3b3b" stroke-width="0.5"/>
<line x1="455.78" y1="700.4" x2="458.28" y2="700.4" stroke="#222" stroke-width="0.9"/>
<line x1="459.26" y1="684" x2="459.26" y2="688.8" stroke="#7a7a7a" stroke-width="0.7"/>
<line x1="459.26" y1="707.4" x2="459.26" y2="712" stroke="#7a7a7a" stroke-width="0.7"/>
<rect x="458.01" y="688.8" width="2.5" height="18.6" fill="#3A7DB6" stroke="#3b3b3b" stroke-width="0.5"/>
<line x1="458.01" y1="700.8" x2="460.51" y2="700.8" stroke="#222" stroke-width="0.9"/>
<line x1="461.49" y1="717.1" x2="461.49" y2="731.2" stroke="#7a7a7a" stroke-width="0.7"/>
<line x1="461.49" y1="744.5" x2="461.49" y2="747.5" stroke="#7a7a7a" stroke-width="0.7"/>
<rect x="460.24" y="731.2" width="2.5" height="13.3" fill="#4DB348" stroke="#3b3b3b" stroke-width="0.5"/>
<line x1="460.24" y1="740.1" x2="462.74" y2="740.1" stroke="#222" stroke-width="0.9"/>
<rect x="462.47" y="746.6" width="2.5" height="0.9" fill="#8D458A" stroke="#3b3b3b" stroke-width="0.5"/>
<line x1="462.47" y1="747" x2="464.97" y2="747" stroke="#222" stroke-width="0.9"/>
<line x1="465.95" y1="678.1" x2="465.95" y2="708.3" stroke="#7a7a7a" stroke-width="0.7"/>
<line x1="465.95" y1="741.9" x2="465.95" y2="746.5" stroke="#7a7a7a" stroke-width="0.7"/>
<rect x="464.7" y="708.3" width="2.5" height="33.6" fill="#F58C19" stroke="#3b3b3b" stroke-width="0.5"/>
<line x1="464.7" y1="738.4" x2="467.2" y2="738.4" stroke="#222" stroke-width="0.9"/>
<line x1="468.18" y1="703.9" x2="468.18" y2="708.3" stroke="#7a7a7a" stroke-width="0.7"/>
<line x1="468.18" y1="719.1" x2="468.18" y2="725" stroke="#7a7a7a" stroke-width="0.7"/>
<rect x="466.93" y="708.3" width="2.5" height="10.8" fill="#EE69AA" stroke="#3b3b3b" stroke-width="0.5"/>
<line x1="466.93" y1="713.3" x2="469.43" y2="713.3" stroke="#222" stroke-width="0.9"/>
<line x1="470.41" y1="697.8" x2="470.41" y2="718.3" stroke="#7a7a7a" stroke-width="0.7"/>
<line x1="470.41" y1="732.8" x2="470.41" y2="746.3" stroke="#7a7a7a" stroke-width="0.7"/>
<rect x="469.16" y="718.3" width="2.5" height="14.5" fill="#93602F" stroke="#3b3b3b" stroke-width="0.5"/>
<line x1="469.16" y1="723.4" x2="471.66" y2="723.4" stroke="#222" stroke-width="0.9"/>
<line x1="482.64" y1="627.6" x2="482.64" y2="644.7" stroke="#7a7a7a" stroke-width="0.7"/>
<line x1="482.64" y1="675.7" x2="482.64" y2="687.2" stroke="#7a7a7a" stroke-width="0.7"/>
<rect x="481.39" y="644.7" width="2.5" height="31" fill="#D7302F" stroke="#3b3b3b" stroke-width="0.5"/>
<line x1="481.39" y1="657.4" x2="483.89" y2="657.4" stroke="#222" stroke-width="0.9"/>
<line x1="484.87" y1="650" x2="484.87" y2="656.6" stroke="#7a7a7a" stroke-width="0.7"/>
<line x1="484.87" y1="675.7" x2="484.87" y2="682" stroke="#7a7a7a" stroke-width="0.7"/>
<rect x="483.62" y="656.6" width="2.5" height="19.1" fill="#3A7DB6" stroke="#3b3b3b" stroke-width="0.5"/>
<line x1="483.62" y1="671.2" x2="486.12" y2="671.2" stroke="#222" stroke-width="0.9"/>
<line x1="487.1" y1="675" x2="487.1" y2="693.6" stroke="#7a7a7a" stroke-width="0.7"/>
<line x1="487.1" y1="722.6" x2="487.1" y2="728" stroke="#7a7a7a" stroke-width="0.7"/>
<rect x="485.85" y="693.6" width="2.5" height="29" fill="#4DB348" stroke="#3b3b3b" stroke-width="0.5"/>
<line x1="485.85" y1="716" x2="488.35" y2="716" stroke="#222" stroke-width="0.9"/>
<line x1="489.33" y1="722" x2="489.33" y2="723.8" stroke="#7a7a7a" stroke-width="0.7"/>
<line x1="489.33" y1="733.7" x2="489.33" y2="735" stroke="#7a7a7a" stroke-width="0.7"/>
<rect x="488.08" y="723.8" width="2.5" height="9.9" fill="#8D458A" stroke="#3b3b3b" stroke-width="0.5"/>
<line x1="488.08" y1="728.7" x2="490.58" y2="728.7" stroke="#222" stroke-width="0.9"/>
<line x1="491.56" y1="645" x2="491.56" y2="664.4" stroke="#7a7a7a" stroke-width="0.7"/>
<line x1="491.56" y1="702.8" x2="491.56" y2="716.2" stroke="#7a7a7a" stroke-width="0.7"/>
<rect x="490.31" y="664.4" width="2.5" height="38.4" fill="#F58C19" stroke="#3b3b3b" stroke-width="0.5"/>
<line x1="490.31" y1="689.4" x2="492.81" y2="689.4" stroke="#222" stroke-width="0.9"/>
<line x1="493.79" y1="631" x2="493.79" y2="639" stroke="#7a7a7a" stroke-width="0.7"/>
<line x1="493.79" y1="663.3" x2="493.79" y2="670" stroke="#7a7a7a" stroke-width="0.7"/>
<rect x="492.54" y="639" width="2.5" height="24.3" fill="#EE69AA" stroke="#3b3b3b" stroke-width="0.5"/>
<line x1="492.54" y1="647.4" x2="495.04" y2="647.4" stroke="#222" stroke-width="0.9"/>
<line x1="496.02" y1="645" x2="496.02" y2="661.1" stroke="#7a7a7a" stroke-width="0.7"/>
<line x1="496.02" y1="687.6" x2="496.02" y2="720.8" stroke="#7a7a7a" stroke-width="0.7"/>
<rect x="494.77" y="661.1" width="2.5" height="26.5" fill="#93602F" stroke="#3b3b3b" stroke-width="0.5"/>
<line x1="494.77" y1="670.3" x2="497.27" y2="670.3" stroke="#222" stroke-width="0.9"/>
<line x1="508.25" y1="610.7" x2="508.25" y2="622.3" stroke="#7a7a7a" stroke-width="0.7"/>
<line x1="508.25" y1="654.4" x2="508.25" y2="664.1" stroke="#7a7a7a" stroke-width="0.7"/>
<rect x="507" y="622.3" width="2.5" height="32.1" fill="#D7302F" stroke="#3b3b3b" stroke-width="0.5"/>
<line x1="507" y1="638.4" x2="509.5" y2="638.4" stroke="#222" stroke-width="0.9"/>
<line x1="510.48" y1="630" x2="510.48" y2="637.2" stroke="#7a7a7a" stroke-width="0.7"/>
<line x1="510.48" y1="650.4" x2="510.48" y2="655" stroke="#7a7a7a" stroke-width="0.7"/>
<rect x="509.23" y="637.2" width="2.5" height="13.2" fill="#3A7DB6" stroke="#3b3b3b" stroke-width="0.5"/>
<line x1="509.23" y1="647.4" x2="511.73" y2="647.4" stroke="#222" stroke-width="0.9"/>
<line x1="512.71" y1="655" x2="512.71" y2="668.8" stroke="#7a7a7a" stroke-width="0.7"/>
<line x1="512.71" y1="695.3" x2="512.71" y2="702" stroke="#7a7a7a" stroke-width="0.7"/>
<rect x="511.46" y="668.8" width="2.5" height="26.5" fill="#4DB348" stroke="#3b3b3b" stroke-width="0.5"/>
<line x1="511.46" y1="688.2" x2="513.96" y2="688.2" stroke="#222" stroke-width="0.9"/>
<line x1="514.94" y1="696" x2="514.94" y2="699" stroke="#7a7a7a" stroke-width="0.7"/>
<line x1="514.94" y1="718.2" x2="514.94" y2="721.5" stroke="#7a7a7a" stroke-width="0.7"/>
<rect x="513.69" y="699" width="2.5" height="19.2" fill="#8D458A" stroke="#3b3b3b" stroke-width="0.5"/>
<line x1="513.69" y1="708.8" x2="516.19" y2="708.8" stroke="#222" stroke-width="0.9"/>
<line x1="517.17" y1="620" x2="517.17" y2="641.4" stroke="#7a7a7a" stroke-width="0.7"/>
<line x1="517.17" y1="679" x2="517.17" y2="694.6" stroke="#7a7a7a" stroke-width="0.7"/>
<rect x="515.92" y="641.4" width="2.5" height="37.6" fill="#F58C19" stroke="#3b3b3b" stroke-width="0.5"/>
<line x1="515.92" y1="663.8" x2="518.42" y2="663.8" stroke="#222" stroke-width="0.9"/>
<line x1="519.4" y1="603.7" x2="519.4" y2="611.2" stroke="#7a7a7a" stroke-width="0.7"/>
<line x1="519.4" y1="635.8" x2="519.4" y2="645" stroke="#7a7a7a" stroke-width="0.7"/>
<rect x="518.15" y="611.2" width="2.5" height="24.6" fill="#EE69AA" stroke="#3b3b3b" stroke-width="0.5"/>
<line x1="518.15" y1="619.1" x2="520.65" y2="619.1" stroke="#222" stroke-width="0.9"/>
<line x1="521.63" y1="610" x2="521.63" y2="628.3" stroke="#7a7a7a" stroke-width="0.7"/>
<line x1="521.63" y1="663.3" x2="521.63" y2="696.5" stroke="#7a7a7a" stroke-width="0.7"/>
<rect x="520.38" y="628.3" width="2.5" height="35" fill="#93602F" stroke="#3b3b3b" stroke-width="0.5"/>
<line x1="520.38" y1="647.4" x2="522.88" y2="647.4" stroke="#222" stroke-width="0.9"/>
<line x1="533.86" y1="591.3" x2="533.86" y2="596.3" stroke="#7a7a7a" stroke-width="0.7"/>
<line x1="533.86" y1="618.6" x2="533.86" y2="627.7" stroke="#7a7a7a" stroke-width="0.7"/>
<rect x="532.61" y="596.3" width="2.5" height="22.3" fill="#D7302F" stroke="#3b3b3b" stroke-width="0.5"/>
<line x1="532.61" y1="611.6" x2="535.11" y2="611.6" stroke="#222" stroke-width="0.9"/>
<line x1="536.09" y1="599.8" x2="536.09" y2="603.3" stroke="#7a7a7a" stroke-width="0.7"/>
<line x1="536.09" y1="624" x2="536.09" y2="630" stroke="#7a7a7a" stroke-width="0.7"/>
<rect x="534.84" y="603.3" width="2.5" height="20.7" fill="#3A7DB6" stroke="#3b3b3b" stroke-width="0.5"/>
<line x1="534.84" y1="613.4" x2="537.34" y2="613.4" stroke="#222" stroke-width="0.9"/>
<line x1="538.32" y1="594.2" x2="538.32" y2="631.3" stroke="#7a7a7a" stroke-width="0.7"/>
<line x1="538.32" y1="655.9" x2="538.32" y2="683.4" stroke="#7a7a7a" stroke-width="0.7"/>
<rect x="537.07" y="631.3" width="2.5" height="24.6" fill="#4DB348" stroke="#3b3b3b" stroke-width="0.5"/>
<line x1="537.07" y1="645.4" x2="539.57" y2="645.4" stroke="#222" stroke-width="0.9"/>
<line x1="540.55" y1="665" x2="540.55" y2="671.2" stroke="#7a7a7a" stroke-width="0.7"/>
<line x1="540.55" y1="687.9" x2="540.55" y2="700.1" stroke="#7a7a7a" stroke-width="0.7"/>
<rect x="539.3" y="671.2" width="2.5" height="16.7" fill="#8D458A" stroke="#3b3b3b" stroke-width="0.5"/>
<line x1="539.3" y1="681.6" x2="541.8" y2="681.6" stroke="#222" stroke-width="0.9"/>
<line x1="542.78" y1="600.4" x2="542.78" y2="615.3" stroke="#7a7a7a" stroke-width="0.7"/>
<line x1="542.78" y1="641.7" x2="542.78" y2="653.7" stroke="#7a7a7a" stroke-width="0.7"/>
<rect x="541.53" y="615.3" width="2.5" height="26.4" fill="#F58C19" stroke="#3b3b3b" stroke-width="0.5"/>
<line x1="541.53" y1="629.3" x2="544.03" y2="629.3" stroke="#222" stroke-width="0.9"/>
<line x1="545.01" y1="583.9" x2="545.01" y2="589.2" stroke="#7a7a7a" stroke-width="0.7"/>
<line x1="545.01" y1="610.3" x2="545.01" y2="615" stroke="#7a7a7a" stroke-width="0.7"/>
<rect x="543.76" y="589.2" width="2.5" height="21.1" fill="#EE69AA" stroke="#3b3b3b" stroke-width="0.5"/>
<line x1="543.76" y1="595.4" x2="546.26" y2="595.4" stroke="#222" stroke-width="0.9"/>
<line x1="547.24" y1="598" x2="547.24" y2="606.2" stroke="#7a7a7a" stroke-width="0.7"/>
<line x1="547.24" y1="626.5" x2="547.24" y2="651.9" stroke="#7a7a7a" stroke-width="0.7"/>
<rect x="545.99" y="606.2" width="2.5" height="20.3" fill="#93602F" stroke="#3b3b3b" stroke-width="0.5"/>
<line x1="545.99" y1="619.6" x2="548.49" y2="619.6" stroke="#222" stroke-width="0.9"/>
<line x1="559.47" y1="577.2" x2="559.47" y2="583" stroke="#7a7a7a" stroke-width="0.7"/>
<line x1="559.47" y1="598.8" x2="559.47" y2="603" stroke="#7a7a7a" stroke-width="0.7"/>
<rect x="558.22" y="583" width="2.5" height="15.8" fill="#D7302F" stroke="#3b3b3b" stroke-width="0.5"/>
<line x1="558.22" y1="594.6" x2="560.72" y2="594.6" stroke="#222" stroke-width="0.9"/>
<line x1="561.7" y1="571.9" x2="561.7" y2="588.4" stroke="#7a7a7a" stroke-width="0.7"/>
<line x1="561.7" y1="605.7" x2="561.7" y2="610" stroke="#7a7a7a" stroke-width="0.7"/>
<rect x="560.45" y="588.4" width="2.5" height="17.3" fill="#3A7DB6" stroke="#3b3b3b" stroke-width="0.5"/>
<line x1="560.45" y1="596.3" x2="562.95" y2="596.3" stroke="#222" stroke-width="0.9"/>
<line x1="563.93" y1="590" x2="563.93" y2="609.5" stroke="#7a7a7a" stroke-width="0.7"/>
<line x1="563.93" y1="634.5" x2="563.93" y2="672" stroke="#7a7a7a" stroke-width="0.7"/>
<rect x="562.68" y="609.5" width="2.5" height="25" fill="#4DB348" stroke="#3b3b3b" stroke-width="0.5"/>
<line x1="562.68" y1="617.4" x2="565.18" y2="617.4" stroke="#222" stroke-width="0.9"/>
<line x1="566.16" y1="640" x2="566.16" y2="648.2" stroke="#7a7a7a" stroke-width="0.7"/>
<line x1="566.16" y1="660.6" x2="566.16" y2="665" stroke="#7a7a7a" stroke-width="0.7"/>
<rect x="564.91" y="648.2" width="2.5" height="12.4" fill="#8D458A" stroke="#3b3b3b" stroke-width="0.5"/>
<line x1="564.91" y1="657.5" x2="567.41" y2="657.5" stroke="#222" stroke-width="0.9"/>
<line x1="568.39" y1="592" x2="568.39" y2="599.5" stroke="#7a7a7a" stroke-width="0.7"/>
<line x1="568.39" y1="616.9" x2="568.39" y2="625.6" stroke="#7a7a7a" stroke-width="0.7"/>
<rect x="567.14" y="599.5" width="2.5" height="17.4" fill="#F58C19" stroke="#3b3b3b" stroke-width="0.5"/>
<line x1="567.14" y1="608.5" x2="569.64" y2="608.5" stroke="#222" stroke-width="0.9"/>
<line x1="570.62" y1="574.3" x2="570.62" y2="578.4" stroke="#7a7a7a" stroke-width="0.7"/>
<line x1="570.62" y1="594.8" x2="570.62" y2="600" stroke="#7a7a7a" stroke-width="0.7"/>
<rect x="569.37" y="578.4" width="2.5" height="16.4" fill="#EE69AA" stroke="#3b3b3b" stroke-width="0.5"/>
<line x1="569.37" y1="583" x2="571.87" y2="583" stroke="#222" stroke-width="0.9"/>
<line x1="572.85" y1="590" x2="572.85" y2="594.2" stroke="#7a7a7a" stroke-width="0.7"/>
<line x1="572.85" y1="605.7" x2="572.85" y2="623.3" stroke="#7a7a7a" stroke-width="0.7"/>
<rect x="571.6" y="594.2" width="2.5" height="11.5" fill="#93602F" stroke="#3b3b3b" stroke-width="0.5"/>
<line x1="571.6" y1="600.4" x2="574.1" y2="600.4" stroke="#222" stroke-width="0.9"/>
<line x1="585.08" y1="570" x2="585.08" y2="574.7" stroke="#7a7a7a" stroke-width="0.7"/>
<line x1="585.08" y1="587.4" x2="585.08" y2="592" stroke="#7a7a7a" stroke-width="0.7"/>
<rect x="583.83" y="574.7" width="2.5" height="12.7" fill="#D7302F" stroke="#3b3b3b" stroke-width="0.5"/>
<line x1="583.83" y1="582.4" x2="586.33" y2="582.4" stroke="#222" stroke-width="0.9"/>
<line x1="587.31" y1="572" x2="587.31" y2="579.9" stroke="#7a7a7a" stroke-width="0.7"/>
<line x1="587.31" y1="593.6" x2="587.31" y2="597" stroke="#7a7a7a" stroke-width="0.7"/>
<rect x="586.06" y="579.9" width="2.5" height="13.7" fill="#3A7DB6" stroke="#3b3b3b" stroke-width="0.5"/>
<line x1="586.06" y1="586.1" x2="588.56" y2="586.1" stroke="#222" stroke-width="0.9"/>
<line x1="589.54" y1="585" x2="589.54" y2="594.8" stroke="#7a7a7a" stroke-width="0.7"/>
<line x1="589.54" y1="616.5" x2="589.54" y2="629.3" stroke="#7a7a7a" stroke-width="0.7"/>
<rect x="588.29" y="594.8" width="2.5" height="21.7" fill="#4DB348" stroke="#3b3b3b" stroke-width="0.5"/>
<line x1="588.29" y1="600.4" x2="590.79" y2="600.4" stroke="#222" stroke-width="0.9"/>
<line x1="591.77" y1="628" x2="591.77" y2="630.8" stroke="#7a7a7a" stroke-width="0.7"/>
<line x1="591.77" y1="639.7" x2="591.77" y2="641" stroke="#7a7a7a" stroke-width="0.7"/>
<rect x="590.52" y="630.8" width="2.5" height="8.9" fill="#8D458A" stroke="#3b3b3b" stroke-width="0.5"/>
<line x1="590.52" y1="635" x2="593.02" y2="635" stroke="#222" stroke-width="0.9"/>
<line x1="594" y1="585" x2="594" y2="589.2" stroke="#7a7a7a" stroke-width="0.7"/>
<line x1="594" y1="600.8" x2="594" y2="607.2" stroke="#7a7a7a" stroke-width="0.7"/>
<rect x="592.75" y="589.2" width="2.5" height="11.6" fill="#F58C19" stroke="#3b3b3b" stroke-width="0.5"/>
<line x1="592.75" y1="594.8" x2="595.25" y2="594.8" stroke="#222" stroke-width="0.9"/>
<line x1="596.23" y1="567" x2="596.23" y2="571.5" stroke="#7a7a7a" stroke-width="0.7"/>
<line x1="596.23" y1="584.6" x2="596.23" y2="588" stroke="#7a7a7a" stroke-width="0.7"/>
<rect x="594.98" y="571.5" width="2.5" height="13.1" fill="#EE69AA" stroke="#3b3b3b" stroke-width="0.5"/>
<line x1="594.98" y1="575.6" x2="597.48" y2="575.6" stroke="#222" stroke-width="0.9"/>
<line x1="598.46" y1="582" x2="598.46" y2="585.5" stroke="#7a7a7a" stroke-width="0.7"/>
<line x1="598.46" y1="593" x2="598.46" y2="598" stroke="#7a7a7a" stroke-width="0.7"/>
<rect x="597.21" y="585.5" width="2.5" height="7.5" fill="#93602F" stroke="#3b3b3b" stroke-width="0.5"/>
<line x1="597.21" y1="588.4" x2="599.71" y2="588.4" stroke="#222" stroke-width="0.9"/>
<line x1="610.69" y1="565.2" x2="610.69" y2="569.3" stroke="#7a7a7a" stroke-width="0.7"/>
<line x1="610.69" y1="580.7" x2="610.69" y2="584" stroke="#7a7a7a" stroke-width="0.7"/>
<rect x="609.44" y="569.3" width="2.5" height="11.4" fill="#D7302F" stroke="#3b3b3b" stroke-width="0.5"/>
<line x1="609.44" y1="575.2" x2="611.94" y2="575.2" stroke="#222" stroke-width="0.9"/>
<line x1="612.92" y1="568" x2="612.92" y2="574.1" stroke="#7a7a7a" stroke-width="0.7"/>
<line x1="612.92" y1="585" x2="612.92" y2="588" stroke="#7a7a7a" stroke-width="0.7"/>
<rect x="611.67" y="574.1" width="2.5" height="10.9" fill="#3A7DB6" stroke="#3b3b3b" stroke-width="0.5"/>
<line x1="611.67" y1="579.3" x2="614.17" y2="579.3" stroke="#222" stroke-width="0.9"/>
<line x1="615.15" y1="561.2" x2="615.15" y2="585.7" stroke="#7a7a7a" stroke-width="0.7"/>
<line x1="615.15" y1="603.9" x2="615.15" y2="617.8" stroke="#7a7a7a" stroke-width="0.7"/>
<rect x="613.9" y="585.7" width="2.5" height="18.2" fill="#4DB348" stroke="#3b3b3b" stroke-width="0.5"/>
<line x1="613.9" y1="590.5" x2="616.4" y2="590.5" stroke="#222" stroke-width="0.9"/>
<line x1="617.38" y1="616" x2="617.38" y2="617.5" stroke="#7a7a7a" stroke-width="0.7"/>
<line x1="617.38" y1="624.3" x2="617.38" y2="625" stroke="#7a7a7a" stroke-width="0.7"/>
<rect x="616.13" y="617.5" width="2.5" height="6.8" fill="#8D458A" stroke="#3b3b3b" stroke-width="0.5"/>
<line x1="616.13" y1="620.5" x2="618.63" y2="620.5" stroke="#222" stroke-width="0.9"/>
<line x1="619.61" y1="579" x2="619.61" y2="582" stroke="#7a7a7a" stroke-width="0.7"/>
<line x1="619.61" y1="590.2" x2="619.61" y2="594.6" stroke="#7a7a7a" stroke-width="0.7"/>
<rect x="618.36" y="582" width="2.5" height="8.2" fill="#F58C19" stroke="#3b3b3b" stroke-width="0.5"/>
<line x1="618.36" y1="586.1" x2="620.86" y2="586.1" stroke="#222" stroke-width="0.9"/>
<line x1="621.84" y1="564.6" x2="621.84" y2="567" stroke="#7a7a7a" stroke-width="0.7"/>
<line x1="621.84" y1="577.5" x2="621.84" y2="580" stroke="#7a7a7a" stroke-width="0.7"/>
<rect x="620.59" y="567" width="2.5" height="10.5" fill="#EE69AA" stroke="#3b3b3b" stroke-width="0.5"/>
<line x1="620.59" y1="568.9" x2="623.09" y2="568.9" stroke="#222" stroke-width="0.9"/>
<line x1="624.07" y1="577" x2="624.07" y2="578.9" stroke="#7a7a7a" stroke-width="0.7"/>
<line x1="624.07" y1="584.4" x2="624.07" y2="586" stroke="#7a7a7a" stroke-width="0.7"/>
<rect x="622.82" y="578.9" width="2.5" height="5.5" fill="#93602F" stroke="#3b3b3b" stroke-width="0.5"/>
<line x1="622.82" y1="580.3" x2="625.32" y2="580.3" stroke="#222" stroke-width="0.9"/>
<line x1="636.3" y1="558" x2="636.3" y2="560.7" stroke="#7a7a7a" stroke-width="0.7"/>
<line x1="636.3" y1="568" x2="636.3" y2="571" stroke="#7a7a7a" stroke-width="0.7"/>
<rect x="635.05" y="560.7" width="2.5" height="7.3" fill="#D7302F" stroke="#3b3b3b" stroke-width="0.5"/>
<line x1="635.05" y1="564.3" x2="637.55" y2="564.3" stroke="#222" stroke-width="0.9"/>
<line x1="638.53" y1="562" x2="638.53" y2="564.8" stroke="#7a7a7a" stroke-width="0.7"/>
<line x1="638.53" y1="570.7" x2="638.53" y2="573" stroke="#7a7a7a" stroke-width="0.7"/>
<rect x="637.28" y="564.8" width="2.5" height="5.9" fill="#3A7DB6" stroke="#3b3b3b" stroke-width="0.5"/>
<line x1="637.28" y1="568.7" x2="639.78" y2="568.7" stroke="#222" stroke-width="0.9"/>
<line x1="640.76" y1="556.1" x2="640.76" y2="570.3" stroke="#7a7a7a" stroke-width="0.7"/>
<line x1="640.76" y1="582.6" x2="640.76" y2="593.5" stroke="#7a7a7a" stroke-width="0.7"/>
<rect x="639.51" y="570.3" width="2.5" height="12.3" fill="#4DB348" stroke="#3b3b3b" stroke-width="0.5"/>
<line x1="639.51" y1="573" x2="642.01" y2="573" stroke="#222" stroke-width="0.9"/>
<line x1="642.99" y1="592" x2="642.99" y2="593" stroke="#7a7a7a" stroke-width="0.7"/>
<line x1="642.99" y1="597.6" x2="642.99" y2="598" stroke="#7a7a7a" stroke-width="0.7"/>
<rect x="641.74" y="593" width="2.5" height="4.6" fill="#8D458A" stroke="#3b3b3b" stroke-width="0.5"/>
<line x1="641.74" y1="595" x2="644.24" y2="595" stroke="#222" stroke-width="0.9"/>
<line x1="645.22" y1="569" x2="645.22" y2="570.7" stroke="#7a7a7a" stroke-width="0.7"/>
<line x1="645.22" y1="573.4" x2="645.22" y2="576.2" stroke="#7a7a7a" stroke-width="0.7"/>
<rect x="643.97" y="570.7" width="2.5" height="2.7" fill="#F58C19" stroke="#3b3b3b" stroke-width="0.5"/>
<line x1="643.97" y1="572" x2="646.47" y2="572" stroke="#222" stroke-width="0.9"/>
<line x1="647.45" y1="558" x2="647.45" y2="560.2" stroke="#7a7a7a" stroke-width="0.7"/>
<line x1="647.45" y1="566.2" x2="647.45" y2="568" stroke="#7a7a7a" stroke-width="0.7"/>
<rect x="646.2" y="560.2" width="2.5" height="6" fill="#EE69AA" stroke="#3b3b3b" stroke-width="0.5"/>
<line x1="646.2" y1="561.8" x2="648.7" y2="561.8" stroke="#222" stroke-width="0.9"/>
<line x1="649.68" y1="565" x2="649.68" y2="567" stroke="#7a7a7a" stroke-width="0.7"/>
<line x1="649.68" y1="570.3" x2="649.68" y2="575.2" stroke="#7a7a7a" stroke-width="0.7"/>
<rect x="648.43" y="567" width="2.5" height="3.3" fill="#93602F" stroke="#3b3b3b" stroke-width="0.5"/>
<line x1="648.43" y1="568.5" x2="650.93" y2="568.5" stroke="#222" stroke-width="0.9"/>
<line x1="661.91" y1="555" x2="661.91" y2="557.7" stroke="#7a7a7a" stroke-width="0.7"/>
<line x1="661.91" y1="563.5" x2="661.91" y2="565" stroke="#7a7a7a" stroke-width="0.7"/>
<rect x="660.66" y="557.7" width="2.5" height="5.8" fill="#D7302F" stroke="#3b3b3b" stroke-width="0.5"/>
<line x1="660.66" y1="560.2" x2="663.16" y2="560.2" stroke="#222" stroke-width="0.9"/>
<line x1="664.14" y1="559" x2="664.14" y2="561.2" stroke="#7a7a7a" stroke-width="0.7"/>
<line x1="664.14" y1="565.7" x2="664.14" y2="567" stroke="#7a7a7a" stroke-width="0.7"/>
<rect x="662.89" y="561.2" width="2.5" height="4.5" fill="#3A7DB6" stroke="#3b3b3b" stroke-width="0.5"/>
<line x1="662.89" y1="563.5" x2="665.39" y2="563.5" stroke="#222" stroke-width="0.9"/>
<line x1="666.37" y1="553.9" x2="666.37" y2="565.7" stroke="#7a7a7a" stroke-width="0.7"/>
<line x1="666.37" y1="575.2" x2="666.37" y2="583.4" stroke="#7a7a7a" stroke-width="0.7"/>
<rect x="665.12" y="565.7" width="2.5" height="9.5" fill="#4DB348" stroke="#3b3b3b" stroke-width="0.5"/>
<line x1="665.12" y1="567" x2="667.62" y2="567" stroke="#222" stroke-width="0.9"/>
<line x1="668.6" y1="582.5" x2="668.6" y2="583.4" stroke="#7a7a7a" stroke-width="0.7"/>
<line x1="668.6" y1="587.5" x2="668.6" y2="588" stroke="#7a7a7a" stroke-width="0.7"/>
<rect x="667.35" y="583.4" width="2.5" height="4.1" fill="#8D458A" stroke="#3b3b3b" stroke-width="0.5"/>
<line x1="667.35" y1="585.5" x2="669.85" y2="585.5" stroke="#222" stroke-width="0.9"/>
<line x1="670.83" y1="564" x2="670.83" y2="565.2" stroke="#7a7a7a" stroke-width="0.7"/>
<line x1="670.83" y1="567" x2="670.83" y2="568" stroke="#7a7a7a" stroke-width="0.7"/>
<rect x="669.58" y="565.2" width="2.5" height="1.8" fill="#F58C19" stroke="#3b3b3b" stroke-width="0.5"/>
<line x1="669.58" y1="566" x2="672.08" y2="566" stroke="#222" stroke-width="0.9"/>
<line x1="673.06" y1="556" x2="673.06" y2="557.5" stroke="#7a7a7a" stroke-width="0.7"/>
<line x1="673.06" y1="562.5" x2="673.06" y2="564" stroke="#7a7a7a" stroke-width="0.7"/>
<rect x="671.81" y="557.5" width="2.5" height="5" fill="#EE69AA" stroke="#3b3b3b" stroke-width="0.5"/>
<line x1="671.81" y1="558.8" x2="674.31" y2="558.8" stroke="#222" stroke-width="0.9"/>
<line x1="675.29" y1="561.5" x2="675.29" y2="562.9" stroke="#7a7a7a" stroke-width="0.7"/>
<line x1="675.29" y1="565.7" x2="675.29" y2="568.9" stroke="#7a7a7a" stroke-width="0.7"/>
<rect x="674.04" y="562.9" width="2.5" height="2.8" fill="#93602F" stroke="#3b3b3b" stroke-width="0.5"/>
<line x1="674.04" y1="564" x2="676.54" y2="564" stroke="#222" stroke-width="0.9"/>
<circle cx="405.9" cy="694.2" r="1.6" fill="#1a1a1a"/>
<circle cx="410.3" cy="737.8" r="1.6" fill="#1a1a1a"/>
<circle cx="410.3" cy="740.1" r="1.6" fill="#1a1a1a"/>
<circle cx="410.3" cy="746.3" r="1.6" fill="#1a1a1a"/>
<circle cx="436" cy="706.3" r="1.6" fill="#1a1a1a"/>
<circle cx="436" cy="708" r="1.6" fill="#1a1a1a"/>
<circle cx="438" cy="743.1" r="1.6" fill="#1a1a1a"/>
<circle cx="459.4" cy="659.3" r="1.6" fill="#1a1a1a"/>
<circle cx="461.6" cy="690.5" r="1.6" fill="#1a1a1a"/>
<circle cx="461.6" cy="702.4" r="1.6" fill="#1a1a1a"/>
<circle cx="463.8" cy="740.7" r="1.6" fill="#1a1a1a"/>
<circle cx="485.1" cy="627.6" r="1.6" fill="#1a1a1a"/>
<circle cx="487.2" cy="645.4" r="1.6" fill="#1a1a1a"/>
<circle cx="510.5" cy="614.6" r="1.6" fill="#1a1a1a"/>
<circle cx="513" cy="620.1" r="1.6" fill="#1a1a1a"/>
<circle cx="513" cy="622" r="1.6" fill="#1a1a1a"/>
<circle cx="538.4" cy="584.9" r="1.6" fill="#1a1a1a"/>
<circle cx="540.3" cy="636.5" r="1.6" fill="#1a1a1a"/>
<circle cx="565.9" cy="610.3" r="1.6" fill="#1a1a1a"/>
<circle cx="592" cy="594.8" r="1.6" fill="#1a1a1a"/>
<circle cx="592" cy="660" r="1.6" fill="#1a1a1a"/>
<circle cx="598.4" cy="605.7" r="1.6" fill="#1a1a1a"/>
<circle cx="617.1" cy="585" r="1.6" fill="#1a1a1a"/>
<circle cx="617.5" cy="644.4" r="1.6" fill="#1a1a1a"/>
<circle cx="624.3" cy="593.6" r="1.6" fill="#1a1a1a"/>
<circle cx="643" cy="569.8" r="1.6" fill="#1a1a1a"/>
<circle cx="643.4" cy="613.4" r="1.6" fill="#1a1a1a"/>
<circle cx="668.9" cy="564.3" r="1.6" fill="#1a1a1a"/>
<circle cx="668.9" cy="600.3" r="1.6" fill="#1a1a1a"/>
</svg>
</body></html>
